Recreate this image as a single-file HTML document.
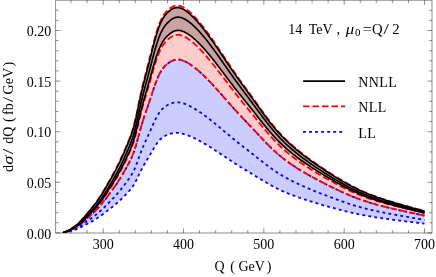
<!DOCTYPE html>
<html><head><meta charset="utf-8"><style>
html,body{margin:0;padding:0;background:#fff;}
svg{display:block;will-change:transform}
text{font-family:"Liberation Serif",serif;font-size:14px;fill:#000}
</style></head><body>
<svg width="436" height="277" viewBox="0 0 436 277">
<rect width="436" height="277" fill="#fff"/>
<defs><clipPath id="c"><rect x="55.6" y="0" width="376.4" height="233.0"/></clipPath></defs>
<g clip-path="url(#c)">
<path d="M63.04,232.90 L63.28,232.81 L63.53,232.71 L63.78,232.62 L64.03,232.52 L64.27,232.43 L64.52,232.33 L64.77,232.24 L65.01,232.14 L65.26,232.05 L65.51,231.95 L65.76,231.86 L66.00,231.76 L66.25,231.67 L66.50,231.69 L66.74,231.67 L66.99,231.63 L67.24,231.56 L67.49,231.47 L67.73,231.37 L67.98,231.27 L68.23,231.16 L68.47,231.05 L68.72,230.94 L68.97,230.82 L69.22,230.71 L69.46,230.60 L69.71,230.48 L69.96,230.37 L70.20,230.26 L70.45,230.14 L70.70,230.02 L70.95,229.91 L71.19,229.79 L71.44,229.67 L71.69,229.56 L71.94,229.44 L72.18,229.32 L72.43,229.20 L72.68,229.08 L73.48,228.67 L74.28,228.25 L75.08,227.82 L75.88,227.36 L76.68,226.88 L77.49,226.37 L78.29,225.83 L79.09,225.26 L79.89,224.67 L80.69,224.05 L81.49,223.40 L82.29,222.73 L83.09,222.05 L83.90,221.36 L84.70,220.67 L85.50,219.97 L86.30,219.26 L87.10,218.56 L87.90,217.84 L88.70,217.13 L89.51,216.41 L90.31,215.68 L91.11,214.95 L91.91,214.21 L92.71,213.45 L93.51,212.69 L94.31,211.91 L95.12,211.12 L95.92,210.30 L96.72,209.46 L97.52,208.61 L98.32,207.73 L99.12,206.83 L99.92,205.91 L100.73,204.97 L101.53,204.02 L102.33,203.04 L103.13,202.05 L103.93,201.05 L104.73,200.03 L105.53,199.00 L106.34,197.96 L107.14,196.91 L107.94,195.86 L108.74,194.80 L109.54,193.73 L110.34,192.66 L111.14,191.58 L111.95,190.49 L112.75,189.38 L113.55,188.27 L114.35,187.14 L115.15,186.00 L115.95,184.84 L116.75,183.66 L117.56,182.46 L118.36,181.24 L119.16,180.00 L119.96,178.73 L120.76,177.43 L121.56,176.12 L122.36,174.78 L123.17,173.42 L123.97,172.03 L124.77,170.63 L125.57,169.20 L126.37,167.75 L127.17,166.28 L127.97,164.79 L128.78,163.27 L129.58,161.72 L130.38,160.13 L131.18,158.46 L131.98,156.69 L132.78,154.78 L133.58,152.70 L134.39,150.42 L135.19,147.94 L135.99,145.28 L136.79,142.49 L137.59,139.60 L138.39,136.65 L139.19,133.68 L140.00,130.76 L140.80,127.92 L141.60,125.20 L142.40,122.57 L143.20,120.03 L144.00,117.56 L144.80,115.16 L145.61,112.79 L146.41,110.46 L147.21,108.13 L148.01,105.79 L148.81,103.41 L149.61,101.00 L150.41,98.57 L151.22,96.13 L152.02,93.69 L152.82,91.28 L153.62,88.89 L154.42,86.56 L155.22,84.29 L156.02,82.10 L156.83,80.02 L157.63,78.06 L158.43,76.24 L159.23,74.57 L160.03,73.02 L160.83,71.61 L161.63,70.32 L162.44,69.15 L163.24,68.08 L164.04,67.11 L164.84,66.23 L165.64,65.42 L166.44,64.69 L167.24,64.01 L168.05,63.38 L168.85,62.80 L169.65,62.26 L170.45,61.77 L171.25,61.32 L172.05,60.93 L172.85,60.58 L173.66,60.29 L174.46,60.05 L175.26,59.86 L176.06,59.72 L176.86,59.64 L177.66,59.61 L178.46,59.63 L179.27,59.71 L180.07,59.83 L180.87,60.00 L181.67,60.21 L182.47,60.46 L183.27,60.75 L184.07,61.07 L184.88,61.43 L185.68,61.81 L186.48,62.22 L187.28,62.66 L188.08,63.12 L188.88,63.60 L189.68,64.10 L190.49,64.62 L191.29,65.16 L192.09,65.72 L192.89,66.30 L193.69,66.89 L194.49,67.51 L195.29,68.13 L196.10,68.78 L196.90,69.43 L197.70,70.11 L198.50,70.80 L199.30,71.50 L200.10,72.21 L200.90,72.94 L201.71,73.68 L202.51,74.43 L203.31,75.19 L204.11,75.96 L204.91,76.74 L205.71,77.54 L206.51,78.34 L207.32,79.15 L208.12,79.97 L208.92,80.80 L209.72,81.63 L210.52,82.48 L211.32,83.33 L212.12,84.19 L212.93,85.05 L213.73,85.92 L214.53,86.79 L215.33,87.67 L216.13,88.56 L216.93,89.45 L217.73,90.34 L218.53,91.24 L219.34,92.14 L220.14,93.05 L220.94,93.95 L221.74,94.86 L222.54,95.77 L223.34,96.67 L224.14,97.58 L224.95,98.49 L225.75,99.40 L226.55,100.31 L227.35,101.22 L228.15,102.13 L228.95,103.03 L229.75,103.93 L230.56,104.83 L231.36,105.73 L232.16,106.62 L232.96,107.52 L233.76,108.40 L234.56,109.29 L235.36,110.16 L236.17,111.04 L236.97,111.91 L237.77,112.78 L238.57,113.64 L239.37,114.50 L240.17,115.35 L240.97,116.21 L241.78,117.06 L242.58,117.91 L243.38,118.76 L244.18,119.60 L244.98,120.45 L245.78,121.29 L246.58,122.14 L247.39,122.98 L248.19,123.83 L248.99,124.67 L249.79,125.52 L250.59,126.36 L251.39,127.21 L252.19,128.06 L253.00,128.90 L253.80,129.76 L254.60,130.61 L255.40,131.46 L256.20,132.32 L257.00,133.18 L257.80,134.04 L258.61,134.90 L259.41,135.76 L260.21,136.61 L261.01,137.47 L261.81,138.32 L262.61,139.17 L263.41,140.02 L264.22,140.86 L265.02,141.70 L265.82,142.53 L266.62,143.35 L267.42,144.17 L268.22,144.98 L269.02,145.79 L269.83,146.58 L270.63,147.37 L271.43,148.15 L272.23,148.92 L273.03,149.68 L273.83,150.43 L274.63,151.17 L275.44,151.89 L276.24,152.61 L277.04,153.32 L277.84,154.01 L278.64,154.70 L279.44,155.37 L280.24,156.04 L281.05,156.69 L281.85,157.34 L282.65,157.97 L283.45,158.60 L284.25,159.22 L285.05,159.83 L285.85,160.44 L286.66,161.03 L287.46,161.62 L288.26,162.20 L289.06,162.77 L289.86,163.34 L290.66,163.90 L291.46,164.45 L292.27,165.00 L293.07,165.54 L293.87,166.07 L294.67,166.60 L295.47,167.12 L296.27,167.64 L297.07,168.15 L297.88,168.66 L298.68,169.16 L299.48,169.66 L300.28,170.15 L301.08,170.64 L301.88,171.13 L302.68,171.61 L303.49,172.08 L304.29,172.56 L305.09,173.03 L305.89,173.49 L306.69,173.95 L307.49,174.41 L308.29,174.87 L309.10,175.32 L309.90,175.77 L310.70,176.21 L311.50,176.65 L312.30,177.09 L313.10,177.53 L313.90,177.97 L314.71,178.40 L315.51,178.83 L316.31,179.26 L317.11,179.68 L317.91,180.10 L318.71,180.52 L319.51,180.94 L320.32,181.36 L321.12,181.78 L321.92,182.19 L322.72,182.60 L323.52,183.01 L324.32,183.42 L325.12,183.83 L325.93,184.23 L326.73,184.64 L327.53,185.04 L328.33,185.44 L329.13,185.84 L329.93,186.24 L330.73,186.64 L331.54,187.03 L332.34,187.43 L333.14,187.82 L333.94,188.21 L334.74,188.60 L335.54,188.98 L336.34,189.37 L337.15,189.75 L337.95,190.13 L338.75,190.51 L339.55,190.88 L340.35,191.25 L341.15,191.62 L341.95,191.99 L342.76,192.35 L343.56,192.71 L344.36,193.07 L345.16,193.42 L345.96,193.77 L346.76,194.12 L347.56,194.47 L348.37,194.81 L349.17,195.15 L349.97,195.48 L350.77,195.82 L351.57,196.15 L352.37,196.47 L353.17,196.79 L353.98,197.11 L354.78,197.43 L355.58,197.74 L356.38,198.05 L357.18,198.35 L357.98,198.66 L358.78,198.95 L359.58,199.25 L360.39,199.54 L361.19,199.82 L361.99,200.11 L362.79,200.39 L363.59,200.66 L364.39,200.94 L365.19,201.20 L366.00,201.47 L366.80,201.73 L367.60,201.99 L368.40,202.24 L369.20,202.49 L370.00,202.74 L370.80,202.98 L371.61,203.22 L372.41,203.46 L373.21,203.69 L374.01,203.92 L374.81,204.15 L375.61,204.38 L376.41,204.60 L377.22,204.82 L378.02,205.04 L378.82,205.25 L379.62,205.46 L380.42,205.68 L381.22,205.88 L382.02,206.09 L382.83,206.29 L383.63,206.50 L384.43,206.70 L385.23,206.90 L386.03,207.09 L386.83,207.29 L387.63,207.48 L388.44,207.68 L389.24,207.87 L390.04,208.06 L390.84,208.25 L391.64,208.43 L392.44,208.62 L393.24,208.80 L394.05,208.99 L394.85,209.17 L395.65,209.35 L396.45,209.54 L397.25,209.72 L398.05,209.90 L398.85,210.08 L399.66,210.25 L400.46,210.43 L401.26,210.61 L402.06,210.79 L402.86,210.96 L403.66,211.14 L404.46,211.31 L405.27,211.49 L406.07,211.66 L406.87,211.84 L407.67,212.01 L408.47,212.18 L409.27,212.36 L410.07,212.53 L410.88,212.70 L411.68,212.88 L412.48,213.05 L413.28,213.22 L414.08,213.39 L414.88,213.57 L415.68,213.74 L416.49,213.91 L417.29,214.08 L418.09,214.26 L418.89,214.43 L419.69,214.60 L420.49,214.77 L421.29,214.94 L422.10,215.12 L422.90,215.29 L423.70,215.46 L424.50,215.63 L424.50,223.61 L423.70,223.52 L422.90,223.42 L422.10,223.32 L421.29,223.23 L420.49,223.13 L419.69,223.03 L418.89,222.94 L418.09,222.84 L417.29,222.75 L416.49,222.65 L415.68,222.55 L414.88,222.46 L414.08,222.36 L413.28,222.26 L412.48,222.17 L411.68,222.07 L410.88,221.97 L410.07,221.88 L409.27,221.78 L408.47,221.68 L407.67,221.58 L406.87,221.49 L406.07,221.39 L405.27,221.29 L404.46,221.19 L403.66,221.09 L402.86,220.99 L402.06,220.90 L401.26,220.80 L400.46,220.70 L399.66,220.60 L398.85,220.50 L398.05,220.39 L397.25,220.29 L396.45,220.19 L395.65,220.09 L394.85,219.99 L394.05,219.88 L393.24,219.78 L392.44,219.68 L391.64,219.57 L390.84,219.47 L390.04,219.36 L389.24,219.25 L388.44,219.14 L387.63,219.04 L386.83,218.93 L386.03,218.82 L385.23,218.71 L384.43,218.59 L383.63,218.48 L382.83,218.37 L382.02,218.25 L381.22,218.14 L380.42,218.02 L379.62,217.90 L378.82,217.78 L378.02,217.66 L377.22,217.54 L376.41,217.41 L375.61,217.29 L374.81,217.16 L374.01,217.03 L373.21,216.90 L372.41,216.77 L371.61,216.64 L370.80,216.50 L370.00,216.37 L369.20,216.23 L368.40,216.09 L367.60,215.94 L366.80,215.80 L366.00,215.65 L365.19,215.50 L364.39,215.35 L363.59,215.20 L362.79,215.05 L361.99,214.89 L361.19,214.73 L360.39,214.57 L359.58,214.40 L358.78,214.24 L357.98,214.07 L357.18,213.90 L356.38,213.73 L355.58,213.56 L354.78,213.38 L353.98,213.21 L353.17,213.03 L352.37,212.85 L351.57,212.66 L350.77,212.48 L349.97,212.29 L349.17,212.10 L348.37,211.91 L347.56,211.72 L346.76,211.53 L345.96,211.33 L345.16,211.13 L344.36,210.93 L343.56,210.73 L342.76,210.53 L341.95,210.33 L341.15,210.12 L340.35,209.91 L339.55,209.71 L338.75,209.49 L337.95,209.28 L337.15,209.07 L336.34,208.86 L335.54,208.64 L334.74,208.42 L333.94,208.20 L333.14,207.98 L332.34,207.76 L331.54,207.54 L330.73,207.32 L329.93,207.10 L329.13,206.87 L328.33,206.65 L327.53,206.42 L326.73,206.19 L325.93,205.97 L325.12,205.74 L324.32,205.51 L323.52,205.28 L322.72,205.05 L321.92,204.81 L321.12,204.58 L320.32,204.35 L319.51,204.11 L318.71,203.87 L317.91,203.64 L317.11,203.40 L316.31,203.16 L315.51,202.92 L314.71,202.67 L313.90,202.43 L313.10,202.18 L312.30,201.94 L311.50,201.69 L310.70,201.44 L309.90,201.18 L309.10,200.93 L308.29,200.68 L307.49,200.42 L306.69,200.16 L305.89,199.90 L305.09,199.63 L304.29,199.37 L303.49,199.10 L302.68,198.83 L301.88,198.56 L301.08,198.29 L300.28,198.01 L299.48,197.73 L298.68,197.45 L297.88,197.16 L297.07,196.87 L296.27,196.58 L295.47,196.29 L294.67,195.99 L293.87,195.69 L293.07,195.39 L292.27,195.08 L291.46,194.77 L290.66,194.46 L289.86,194.14 L289.06,193.82 L288.26,193.50 L287.46,193.17 L286.66,192.83 L285.85,192.50 L285.05,192.15 L284.25,191.81 L283.45,191.45 L282.65,191.10 L281.85,190.73 L281.05,190.37 L280.24,190.00 L279.44,189.62 L278.64,189.23 L277.84,188.84 L277.04,188.45 L276.24,188.05 L275.44,187.64 L274.63,187.22 L273.83,186.80 L273.03,186.38 L272.23,185.95 L271.43,185.51 L270.63,185.06 L269.83,184.62 L269.02,184.16 L268.22,183.70 L267.42,183.24 L266.62,182.77 L265.82,182.30 L265.02,181.83 L264.22,181.35 L263.41,180.87 L262.61,180.39 L261.81,179.90 L261.01,179.41 L260.21,178.92 L259.41,178.43 L258.61,177.94 L257.80,177.45 L257.00,176.96 L256.20,176.47 L255.40,175.97 L254.60,175.48 L253.80,174.99 L253.00,174.50 L252.19,174.02 L251.39,173.53 L250.59,173.04 L249.79,172.55 L248.99,172.07 L248.19,171.58 L247.39,171.09 L246.58,170.60 L245.78,170.12 L244.98,169.63 L244.18,169.14 L243.38,168.65 L242.58,168.16 L241.78,167.66 L240.97,167.17 L240.17,166.68 L239.37,166.18 L238.57,165.68 L237.77,165.18 L236.97,164.67 L236.17,164.17 L235.36,163.66 L234.56,163.15 L233.76,162.63 L232.96,162.11 L232.16,161.59 L231.36,161.07 L230.56,160.55 L229.75,160.02 L228.95,159.49 L228.15,158.96 L227.35,158.43 L226.55,157.90 L225.75,157.37 L224.95,156.83 L224.14,156.30 L223.34,155.76 L222.54,155.23 L221.74,154.69 L220.94,154.16 L220.14,153.62 L219.34,153.09 L218.53,152.56 L217.73,152.03 L216.93,151.50 L216.13,150.97 L215.33,150.44 L214.53,149.92 L213.73,149.40 L212.93,148.88 L212.12,148.36 L211.32,147.85 L210.52,147.34 L209.72,146.83 L208.92,146.33 L208.12,145.83 L207.32,145.34 L206.51,144.85 L205.71,144.37 L204.91,143.89 L204.11,143.41 L203.31,142.94 L202.51,142.48 L201.71,142.02 L200.90,141.57 L200.10,141.12 L199.30,140.69 L198.50,140.25 L197.70,139.83 L196.90,139.41 L196.10,139.00 L195.29,138.60 L194.49,138.21 L193.69,137.83 L192.89,137.45 L192.09,137.09 L191.29,136.73 L190.49,136.39 L189.68,136.05 L188.88,135.73 L188.08,135.41 L187.28,135.11 L186.48,134.82 L185.68,134.55 L184.88,134.29 L184.07,134.05 L183.27,133.82 L182.47,133.62 L181.67,133.43 L180.87,133.27 L180.07,133.13 L179.27,133.02 L178.46,132.94 L177.66,132.88 L176.86,132.86 L176.06,132.86 L175.26,132.90 L174.46,132.96 L173.66,133.06 L172.85,133.19 L172.05,133.34 L171.25,133.53 L170.45,133.74 L169.65,133.98 L168.85,134.24 L168.05,134.54 L167.24,134.86 L166.44,135.21 L165.64,135.59 L164.84,136.01 L164.04,136.48 L163.24,136.99 L162.44,137.57 L161.63,138.21 L160.83,138.91 L160.03,139.69 L159.23,140.54 L158.43,141.47 L157.63,142.49 L156.83,143.59 L156.02,144.76 L155.22,145.99 L154.42,147.27 L153.62,148.59 L152.82,149.94 L152.02,151.32 L151.22,152.70 L150.41,154.09 L149.61,155.47 L148.81,156.85 L148.01,158.20 L147.21,159.54 L146.41,160.86 L145.61,162.20 L144.80,163.55 L144.00,164.92 L143.20,166.34 L142.40,167.80 L141.60,169.31 L140.80,170.89 L140.00,172.52 L139.19,174.22 L138.39,175.94 L137.59,177.65 L136.79,179.33 L135.99,180.95 L135.19,182.49 L134.39,183.94 L133.58,185.26 L132.78,186.47 L131.98,187.57 L131.18,188.60 L130.38,189.56 L129.58,190.48 L128.78,191.37 L127.97,192.25 L127.17,193.12 L126.37,193.97 L125.57,194.81 L124.77,195.64 L123.97,196.45 L123.17,197.26 L122.36,198.05 L121.56,198.83 L120.76,199.59 L119.96,200.35 L119.16,201.09 L118.36,201.81 L117.56,202.53 L116.75,203.23 L115.95,203.92 L115.15,204.59 L114.35,205.26 L113.55,205.92 L112.75,206.58 L111.95,207.22 L111.14,207.87 L110.34,208.50 L109.54,209.13 L108.74,209.76 L107.94,210.39 L107.14,211.01 L106.34,211.63 L105.53,212.25 L104.73,212.86 L103.93,213.46 L103.13,214.06 L102.33,214.65 L101.53,215.23 L100.73,215.80 L99.92,216.36 L99.12,216.91 L98.32,217.45 L97.52,217.98 L96.72,218.49 L95.92,218.99 L95.12,219.49 L94.31,219.96 L93.51,220.43 L92.71,220.89 L91.91,221.35 L91.11,221.79 L90.31,222.24 L89.51,222.68 L88.70,223.12 L87.90,223.55 L87.10,223.99 L86.30,224.42 L85.50,224.85 L84.70,225.28 L83.90,225.70 L83.09,226.13 L82.29,226.55 L81.49,226.96 L80.69,227.36 L79.89,227.74 L79.09,228.11 L78.29,228.46 L77.49,228.79 L76.68,229.11 L75.88,229.41 L75.08,229.69 L74.28,229.97 L73.48,230.23 L72.68,230.48 L72.43,230.56 L72.18,230.63 L71.94,230.71 L71.69,230.78 L71.44,230.86 L71.19,230.93 L70.95,231.00 L70.70,231.08 L70.45,231.15 L70.20,231.22 L69.96,231.29 L69.71,231.37 L69.46,231.44 L69.22,231.51 L68.97,231.58 L68.72,231.65 L68.47,231.72 L68.23,231.79 L67.98,231.86 L67.73,231.93 L67.49,231.99 L67.24,232.05 L66.99,232.09 L66.74,232.12 L66.50,232.13 L66.25,232.11 L66.00,232.17 L65.76,232.23 L65.51,232.30 L65.26,232.36 L65.01,232.42 L64.77,232.48 L64.52,232.54 L64.27,232.60 L64.03,232.66 L63.78,232.72 L63.53,232.78 L63.28,232.84 L63.04,232.90Z" fill="#ccccff" stroke="none"/>
<path d="M63.04,232.90 L63.28,232.77 L63.53,232.64 L63.78,232.51 L64.03,232.39 L64.27,232.26 L64.52,232.13 L64.77,232.00 L65.01,231.87 L65.26,231.74 L65.51,231.62 L65.76,231.49 L66.00,231.36 L66.25,231.23 L66.50,231.26 L66.74,231.24 L66.99,231.18 L67.24,231.08 L67.49,230.97 L67.73,230.83 L67.98,230.69 L68.23,230.54 L68.47,230.39 L68.72,230.24 L68.97,230.09 L69.22,229.94 L69.46,229.78 L69.71,229.63 L69.96,229.47 L70.20,229.32 L70.45,229.16 L70.70,229.01 L70.95,228.85 L71.19,228.69 L71.44,228.53 L71.69,228.37 L71.94,228.21 L72.18,228.05 L72.43,227.89 L72.68,227.73 L73.48,227.18 L74.28,226.62 L75.08,226.03 L75.88,225.41 L76.68,224.76 L77.49,224.08 L78.29,223.35 L79.09,222.59 L79.89,221.79 L80.69,220.95 L81.49,220.08 L82.29,219.19 L83.09,218.27 L83.90,217.35 L84.70,216.42 L85.50,215.48 L86.30,214.53 L87.10,213.58 L87.90,212.63 L88.70,211.67 L89.51,210.71 L90.31,209.73 L91.11,208.75 L91.91,207.76 L92.71,206.76 L93.51,205.74 L94.31,204.70 L95.12,203.64 L95.92,202.55 L96.72,201.43 L97.52,200.29 L98.32,199.12 L99.12,197.92 L99.92,196.70 L100.73,195.45 L101.53,194.17 L102.33,192.88 L103.13,191.56 L103.93,190.22 L104.73,188.87 L105.53,187.50 L106.34,186.12 L107.14,184.73 L107.94,183.33 L108.74,181.92 L109.54,180.51 L110.34,179.09 L111.14,177.65 L111.95,176.20 L112.75,174.75 L113.55,173.27 L114.35,171.78 L115.15,170.27 L115.95,168.73 L116.75,167.17 L117.56,165.59 L118.36,163.97 L119.16,162.32 L119.96,160.65 L120.76,158.94 L121.56,157.20 L122.36,155.43 L123.17,153.63 L123.97,151.81 L124.77,149.95 L125.57,148.07 L126.37,146.16 L127.17,144.22 L127.97,142.25 L128.78,140.24 L129.58,138.21 L130.38,136.11 L131.18,133.91 L131.98,131.58 L132.78,129.06 L133.58,126.32 L134.39,123.31 L135.19,120.03 L135.99,116.54 L136.79,112.86 L137.59,109.05 L138.39,105.16 L139.19,101.26 L140.00,97.41 L140.80,93.69 L141.60,90.11 L142.40,86.66 L143.20,83.33 L144.00,80.10 L144.80,76.95 L145.61,73.87 L146.41,70.81 L147.21,67.77 L148.01,64.72 L148.81,61.61 L149.61,58.47 L150.41,55.29 L151.22,52.11 L152.02,48.93 L152.82,45.78 L153.62,42.68 L154.42,39.64 L155.22,36.69 L156.02,33.85 L156.83,31.16 L157.63,28.62 L158.43,26.27 L159.23,24.10 L160.03,22.12 L160.83,20.31 L161.63,18.66 L162.44,17.16 L163.24,15.81 L164.04,14.58 L164.84,13.47 L165.64,12.46 L166.44,11.54 L167.24,10.70 L168.05,9.92 L168.85,9.20 L169.65,8.55 L170.45,7.95 L171.25,7.42 L172.05,6.95 L172.85,6.55 L173.66,6.22 L174.46,5.95 L175.26,5.75 L176.06,5.62 L176.86,5.57 L177.66,5.58 L178.46,5.65 L179.27,5.78 L180.07,5.98 L180.87,6.24 L181.67,6.55 L182.47,6.91 L183.27,7.32 L184.07,7.78 L184.88,8.28 L185.68,8.82 L186.48,9.40 L187.28,10.01 L188.08,10.64 L188.88,11.30 L189.68,11.99 L190.49,12.71 L191.29,13.45 L192.09,14.21 L192.89,15.00 L193.69,15.81 L194.49,16.64 L195.29,17.50 L196.10,18.37 L196.90,19.26 L197.70,20.17 L198.50,21.10 L199.30,22.05 L200.10,23.01 L200.90,23.99 L201.71,24.99 L202.51,26.00 L203.31,27.02 L204.11,28.06 L204.91,29.11 L205.71,30.17 L206.51,31.25 L207.32,32.34 L208.12,33.44 L208.92,34.54 L209.72,35.66 L210.52,36.79 L211.32,37.93 L212.12,39.07 L212.93,40.22 L213.73,41.38 L214.53,42.55 L215.33,43.73 L216.13,44.90 L216.93,46.09 L217.73,47.28 L218.53,48.47 L219.34,49.67 L220.14,50.87 L220.94,52.07 L221.74,53.28 L222.54,54.49 L223.34,55.69 L224.14,56.90 L224.95,58.11 L225.75,59.31 L226.55,60.52 L227.35,61.72 L228.15,62.92 L228.95,64.12 L229.75,65.31 L230.56,66.50 L231.36,67.69 L232.16,68.88 L232.96,70.05 L233.76,71.23 L234.56,72.40 L235.36,73.56 L236.17,74.71 L236.97,75.86 L237.77,77.01 L238.57,78.15 L239.37,79.28 L240.17,80.41 L240.97,81.53 L241.78,82.65 L242.58,83.76 L243.38,84.87 L244.18,85.98 L244.98,87.09 L245.78,88.20 L246.58,89.31 L247.39,90.41 L248.19,91.52 L248.99,92.62 L249.79,93.73 L250.59,94.84 L251.39,95.95 L252.19,97.06 L253.00,98.17 L253.80,99.28 L254.60,100.40 L255.40,101.51 L256.20,102.63 L257.00,103.76 L257.80,104.88 L258.61,106.00 L259.41,107.12 L260.21,108.25 L261.01,109.36 L261.81,110.48 L262.61,111.59 L263.41,112.69 L264.22,113.79 L265.02,114.88 L265.82,115.97 L266.62,117.04 L267.42,118.11 L268.22,119.17 L269.02,120.22 L269.83,121.26 L270.63,122.28 L271.43,123.30 L272.23,124.30 L273.03,125.29 L273.83,126.27 L274.63,127.23 L275.44,128.18 L276.24,129.12 L277.04,130.04 L277.84,130.95 L278.64,131.84 L279.44,132.72 L280.24,133.58 L281.05,134.44 L281.85,135.28 L282.65,136.11 L283.45,136.93 L284.25,137.74 L285.05,138.53 L285.85,139.32 L286.66,140.09 L287.46,140.86 L288.26,141.62 L289.06,142.36 L289.86,143.10 L290.66,143.83 L291.46,144.55 L292.27,145.26 L293.07,145.97 L293.87,146.66 L294.67,147.35 L295.47,148.03 L296.27,148.71 L297.07,149.37 L297.88,150.03 L298.68,150.69 L299.48,151.34 L300.28,151.98 L301.08,152.62 L301.88,153.25 L302.68,153.87 L303.49,154.49 L304.29,155.11 L305.09,155.72 L305.89,156.32 L306.69,156.92 L307.49,157.52 L308.29,158.11 L309.10,158.70 L309.90,159.28 L310.70,159.86 L311.50,160.44 L312.30,161.01 L313.10,161.58 L313.90,162.14 L314.71,162.71 L315.51,163.27 L316.31,163.82 L317.11,164.37 L317.91,164.92 L318.71,165.47 L319.51,166.02 L320.32,166.56 L321.12,167.10 L321.92,167.63 L322.72,168.17 L323.52,168.70 L324.32,169.23 L325.12,169.76 L325.93,170.29 L326.73,170.81 L327.53,171.34 L328.33,171.86 L329.13,172.38 L329.93,172.89 L330.73,173.41 L331.54,173.92 L332.34,174.43 L333.14,174.94 L333.94,175.45 L334.74,175.95 L335.54,176.45 L336.34,176.95 L337.15,177.45 L337.95,177.94 L338.75,178.43 L339.55,178.91 L340.35,179.39 L341.15,179.87 L341.95,180.34 L342.76,180.82 L343.56,181.28 L344.36,181.75 L345.16,182.21 L345.96,182.67 L346.76,183.12 L347.56,183.57 L348.37,184.02 L349.17,184.46 L349.97,184.89 L350.77,185.33 L351.57,185.76 L352.37,186.18 L353.17,186.60 L353.98,187.01 L354.78,187.42 L355.58,187.83 L356.38,188.23 L357.18,188.63 L357.98,189.02 L358.78,189.41 L359.58,189.79 L360.39,190.17 L361.19,190.54 L361.99,190.91 L362.79,191.27 L363.59,191.63 L364.39,191.99 L365.19,192.34 L366.00,192.68 L366.80,193.02 L367.60,193.36 L368.40,193.69 L369.20,194.01 L370.00,194.33 L370.80,194.65 L371.61,194.96 L372.41,195.27 L373.21,195.57 L374.01,195.87 L374.81,196.17 L375.61,196.46 L376.41,196.75 L377.22,197.04 L378.02,197.32 L378.82,197.60 L379.62,197.88 L380.42,198.15 L381.22,198.42 L382.02,198.69 L382.83,198.95 L383.63,199.22 L384.43,199.48 L385.23,199.74 L386.03,199.99 L386.83,200.25 L387.63,200.50 L388.44,200.75 L389.24,201.00 L390.04,201.24 L390.84,201.49 L391.64,201.73 L392.44,201.97 L393.24,202.21 L394.05,202.45 L394.85,202.69 L395.65,202.93 L396.45,203.16 L397.25,203.40 L398.05,203.63 L398.85,203.86 L399.66,204.10 L400.46,204.33 L401.26,204.56 L402.06,204.78 L402.86,205.01 L403.66,205.24 L404.46,205.47 L405.27,205.69 L406.07,205.92 L406.87,206.15 L407.67,206.37 L408.47,206.60 L409.27,206.82 L410.07,207.04 L410.88,207.27 L411.68,207.49 L412.48,207.71 L413.28,207.94 L414.08,208.16 L414.88,208.38 L415.68,208.60 L416.49,208.83 L417.29,209.05 L418.09,209.27 L418.89,209.49 L419.69,209.71 L420.49,209.94 L421.29,210.16 L422.10,210.38 L422.90,210.60 L423.70,210.82 L424.50,211.05 L424.50,215.63 L423.70,215.46 L422.90,215.29 L422.10,215.12 L421.29,214.94 L420.49,214.77 L419.69,214.60 L418.89,214.43 L418.09,214.26 L417.29,214.08 L416.49,213.91 L415.68,213.74 L414.88,213.57 L414.08,213.39 L413.28,213.22 L412.48,213.05 L411.68,212.88 L410.88,212.70 L410.07,212.53 L409.27,212.36 L408.47,212.18 L407.67,212.01 L406.87,211.84 L406.07,211.66 L405.27,211.49 L404.46,211.31 L403.66,211.14 L402.86,210.96 L402.06,210.79 L401.26,210.61 L400.46,210.43 L399.66,210.25 L398.85,210.08 L398.05,209.90 L397.25,209.72 L396.45,209.54 L395.65,209.35 L394.85,209.17 L394.05,208.99 L393.24,208.80 L392.44,208.62 L391.64,208.43 L390.84,208.25 L390.04,208.06 L389.24,207.87 L388.44,207.68 L387.63,207.48 L386.83,207.29 L386.03,207.09 L385.23,206.90 L384.43,206.70 L383.63,206.50 L382.83,206.29 L382.02,206.09 L381.22,205.88 L380.42,205.68 L379.62,205.46 L378.82,205.25 L378.02,205.04 L377.22,204.82 L376.41,204.60 L375.61,204.38 L374.81,204.15 L374.01,203.92 L373.21,203.69 L372.41,203.46 L371.61,203.22 L370.80,202.98 L370.00,202.74 L369.20,202.49 L368.40,202.24 L367.60,201.99 L366.80,201.73 L366.00,201.47 L365.19,201.20 L364.39,200.94 L363.59,200.66 L362.79,200.39 L361.99,200.11 L361.19,199.82 L360.39,199.54 L359.58,199.25 L358.78,198.95 L357.98,198.66 L357.18,198.35 L356.38,198.05 L355.58,197.74 L354.78,197.43 L353.98,197.11 L353.17,196.79 L352.37,196.47 L351.57,196.15 L350.77,195.82 L349.97,195.48 L349.17,195.15 L348.37,194.81 L347.56,194.47 L346.76,194.12 L345.96,193.77 L345.16,193.42 L344.36,193.07 L343.56,192.71 L342.76,192.35 L341.95,191.99 L341.15,191.62 L340.35,191.25 L339.55,190.88 L338.75,190.51 L337.95,190.13 L337.15,189.75 L336.34,189.37 L335.54,188.98 L334.74,188.60 L333.94,188.21 L333.14,187.82 L332.34,187.43 L331.54,187.03 L330.73,186.64 L329.93,186.24 L329.13,185.84 L328.33,185.44 L327.53,185.04 L326.73,184.64 L325.93,184.23 L325.12,183.83 L324.32,183.42 L323.52,183.01 L322.72,182.60 L321.92,182.19 L321.12,181.78 L320.32,181.36 L319.51,180.94 L318.71,180.52 L317.91,180.10 L317.11,179.68 L316.31,179.26 L315.51,178.83 L314.71,178.40 L313.90,177.97 L313.10,177.53 L312.30,177.09 L311.50,176.65 L310.70,176.21 L309.90,175.77 L309.10,175.32 L308.29,174.87 L307.49,174.41 L306.69,173.95 L305.89,173.49 L305.09,173.03 L304.29,172.56 L303.49,172.08 L302.68,171.61 L301.88,171.13 L301.08,170.64 L300.28,170.15 L299.48,169.66 L298.68,169.16 L297.88,168.66 L297.07,168.15 L296.27,167.64 L295.47,167.12 L294.67,166.60 L293.87,166.07 L293.07,165.54 L292.27,165.00 L291.46,164.45 L290.66,163.90 L289.86,163.34 L289.06,162.77 L288.26,162.20 L287.46,161.62 L286.66,161.03 L285.85,160.44 L285.05,159.83 L284.25,159.22 L283.45,158.60 L282.65,157.97 L281.85,157.34 L281.05,156.69 L280.24,156.04 L279.44,155.37 L278.64,154.70 L277.84,154.01 L277.04,153.32 L276.24,152.61 L275.44,151.89 L274.63,151.17 L273.83,150.43 L273.03,149.68 L272.23,148.92 L271.43,148.15 L270.63,147.37 L269.83,146.58 L269.02,145.79 L268.22,144.98 L267.42,144.17 L266.62,143.35 L265.82,142.53 L265.02,141.70 L264.22,140.86 L263.41,140.02 L262.61,139.17 L261.81,138.32 L261.01,137.47 L260.21,136.61 L259.41,135.76 L258.61,134.90 L257.80,134.04 L257.00,133.18 L256.20,132.32 L255.40,131.46 L254.60,130.61 L253.80,129.76 L253.00,128.90 L252.19,128.06 L251.39,127.21 L250.59,126.36 L249.79,125.52 L248.99,124.67 L248.19,123.83 L247.39,122.98 L246.58,122.14 L245.78,121.29 L244.98,120.45 L244.18,119.60 L243.38,118.76 L242.58,117.91 L241.78,117.06 L240.97,116.21 L240.17,115.35 L239.37,114.50 L238.57,113.64 L237.77,112.78 L236.97,111.91 L236.17,111.04 L235.36,110.16 L234.56,109.29 L233.76,108.40 L232.96,107.52 L232.16,106.62 L231.36,105.73 L230.56,104.83 L229.75,103.93 L228.95,103.03 L228.15,102.13 L227.35,101.22 L226.55,100.31 L225.75,99.40 L224.95,98.49 L224.14,97.58 L223.34,96.67 L222.54,95.77 L221.74,94.86 L220.94,93.95 L220.14,93.05 L219.34,92.14 L218.53,91.24 L217.73,90.34 L216.93,89.45 L216.13,88.56 L215.33,87.67 L214.53,86.79 L213.73,85.92 L212.93,85.05 L212.12,84.19 L211.32,83.33 L210.52,82.48 L209.72,81.63 L208.92,80.80 L208.12,79.97 L207.32,79.15 L206.51,78.34 L205.71,77.54 L204.91,76.74 L204.11,75.96 L203.31,75.19 L202.51,74.43 L201.71,73.68 L200.90,72.94 L200.10,72.21 L199.30,71.50 L198.50,70.80 L197.70,70.11 L196.90,69.43 L196.10,68.78 L195.29,68.13 L194.49,67.51 L193.69,66.89 L192.89,66.30 L192.09,65.72 L191.29,65.16 L190.49,64.62 L189.68,64.10 L188.88,63.60 L188.08,63.12 L187.28,62.66 L186.48,62.22 L185.68,61.81 L184.88,61.43 L184.07,61.07 L183.27,60.75 L182.47,60.46 L181.67,60.21 L180.87,60.00 L180.07,59.83 L179.27,59.71 L178.46,59.63 L177.66,59.61 L176.86,59.64 L176.06,59.72 L175.26,59.86 L174.46,60.05 L173.66,60.29 L172.85,60.58 L172.05,60.93 L171.25,61.32 L170.45,61.77 L169.65,62.26 L168.85,62.80 L168.05,63.38 L167.24,64.01 L166.44,64.69 L165.64,65.42 L164.84,66.23 L164.04,67.11 L163.24,68.08 L162.44,69.15 L161.63,70.32 L160.83,71.61 L160.03,73.02 L159.23,74.57 L158.43,76.24 L157.63,78.06 L156.83,80.02 L156.02,82.10 L155.22,84.29 L154.42,86.56 L153.62,88.89 L152.82,91.28 L152.02,93.69 L151.22,96.13 L150.41,98.57 L149.61,101.00 L148.81,103.41 L148.01,105.79 L147.21,108.13 L146.41,110.46 L145.61,112.79 L144.80,115.16 L144.00,117.56 L143.20,120.03 L142.40,122.57 L141.60,125.20 L140.80,127.92 L140.00,130.76 L139.19,133.68 L138.39,136.65 L137.59,139.60 L136.79,142.49 L135.99,145.28 L135.19,147.94 L134.39,150.42 L133.58,152.70 L132.78,154.78 L131.98,156.69 L131.18,158.46 L130.38,160.13 L129.58,161.72 L128.78,163.27 L127.97,164.79 L127.17,166.28 L126.37,167.75 L125.57,169.20 L124.77,170.63 L123.97,172.03 L123.17,173.42 L122.36,174.78 L121.56,176.12 L120.76,177.43 L119.96,178.73 L119.16,180.00 L118.36,181.24 L117.56,182.46 L116.75,183.66 L115.95,184.84 L115.15,186.00 L114.35,187.14 L113.55,188.27 L112.75,189.38 L111.95,190.49 L111.14,191.58 L110.34,192.66 L109.54,193.73 L108.74,194.80 L107.94,195.86 L107.14,196.91 L106.34,197.96 L105.53,199.00 L104.73,200.03 L103.93,201.05 L103.13,202.05 L102.33,203.04 L101.53,204.02 L100.73,204.97 L99.92,205.91 L99.12,206.83 L98.32,207.73 L97.52,208.61 L96.72,209.46 L95.92,210.30 L95.12,211.12 L94.31,211.91 L93.51,212.69 L92.71,213.45 L91.91,214.21 L91.11,214.95 L90.31,215.68 L89.51,216.41 L88.70,217.13 L87.90,217.84 L87.10,218.56 L86.30,219.26 L85.50,219.97 L84.70,220.67 L83.90,221.36 L83.09,222.05 L82.29,222.73 L81.49,223.40 L80.69,224.05 L79.89,224.67 L79.09,225.26 L78.29,225.83 L77.49,226.37 L76.68,226.88 L75.88,227.36 L75.08,227.82 L74.28,228.25 L73.48,228.67 L72.68,229.08 L72.43,229.20 L72.18,229.32 L71.94,229.44 L71.69,229.56 L71.44,229.67 L71.19,229.79 L70.95,229.91 L70.70,230.02 L70.45,230.14 L70.20,230.26 L69.96,230.37 L69.71,230.48 L69.46,230.60 L69.22,230.71 L68.97,230.82 L68.72,230.94 L68.47,231.05 L68.23,231.16 L67.98,231.27 L67.73,231.37 L67.49,231.47 L67.24,231.56 L66.99,231.63 L66.74,231.67 L66.50,231.69 L66.25,231.67 L66.00,231.76 L65.76,231.86 L65.51,231.95 L65.26,232.05 L65.01,232.14 L64.77,232.24 L64.52,232.33 L64.27,232.43 L64.03,232.52 L63.78,232.62 L63.53,232.71 L63.28,232.81 L63.04,232.90Z" fill="#ffcccc" stroke="none"/>
<path d="M63.04,232.90 L63.28,232.77 L63.53,232.65 L63.78,232.52 L64.03,232.39 L64.27,232.27 L64.52,232.14 L64.77,232.01 L65.01,231.89 L65.26,231.76 L65.51,231.63 L65.76,231.51 L66.00,231.38 L66.25,231.25 L66.50,231.28 L66.74,231.26 L66.99,231.20 L67.24,231.11 L67.49,231.00 L67.73,230.86 L67.98,230.72 L68.23,230.57 L68.47,230.43 L68.72,230.28 L68.97,230.13 L69.22,229.98 L69.46,229.83 L69.71,229.68 L69.96,229.52 L70.20,229.37 L70.45,229.22 L70.70,229.06 L70.95,228.91 L71.19,228.75 L71.44,228.60 L71.69,228.44 L71.94,228.28 L72.18,228.12 L72.43,227.96 L72.68,227.80 L73.48,227.27 L74.28,226.71 L75.08,226.13 L75.88,225.52 L76.68,224.88 L77.49,224.20 L78.29,223.49 L79.09,222.74 L79.89,221.95 L80.69,221.12 L81.49,220.27 L82.29,219.38 L83.09,218.48 L83.90,217.57 L84.70,216.65 L85.50,215.73 L86.30,214.79 L87.10,213.86 L87.90,212.92 L88.70,211.97 L89.51,211.02 L90.31,210.06 L91.11,209.09 L91.91,208.11 L92.71,207.12 L93.51,206.12 L94.31,205.09 L95.12,204.05 L95.92,202.97 L96.72,201.87 L97.52,200.74 L98.32,199.59 L99.12,198.40 L99.92,197.20 L100.73,195.96 L101.53,194.71 L102.33,193.43 L103.13,192.13 L103.93,190.81 L104.73,189.47 L105.53,188.12 L106.34,186.76 L107.14,185.38 L107.94,184.00 L108.74,182.61 L109.54,181.22 L110.34,179.81 L111.14,178.40 L111.95,176.97 L112.75,175.53 L113.55,174.07 L114.35,172.60 L115.15,171.10 L115.95,169.59 L116.75,168.05 L117.56,166.48 L118.36,164.89 L119.16,163.26 L119.96,161.60 L120.76,159.92 L121.56,158.20 L122.36,156.45 L123.17,154.68 L123.97,152.87 L124.77,151.04 L125.57,149.18 L126.37,147.29 L127.17,145.38 L127.97,143.43 L128.78,141.45 L129.58,139.44 L130.38,137.36 L131.18,135.19 L131.98,132.89 L132.78,130.40 L133.58,127.69 L134.39,124.72 L135.19,121.48 L135.99,118.02 L136.79,114.38 L137.59,110.61 L138.39,106.77 L139.19,102.90 L140.00,99.09 L140.80,95.41 L141.60,91.86 L142.40,88.44 L143.20,85.14 L144.00,81.94 L144.80,78.82 L145.61,75.76 L146.41,72.73 L147.21,69.71 L148.01,66.68 L148.81,63.60 L149.61,60.48 L150.41,57.33 L151.22,54.17 L152.02,51.01 L152.82,47.88 L153.62,44.80 L154.42,41.78 L155.22,38.85 L156.02,36.03 L156.83,33.35 L157.63,30.82 L158.43,28.48 L159.23,26.32 L160.03,24.35 L160.83,22.54 L161.63,20.89 L162.44,19.39 L163.24,18.03 L164.04,16.80 L164.84,15.69 L165.64,14.67 L166.44,13.75 L167.24,12.90 L168.05,12.11 L168.85,11.39 L169.65,10.72 L170.45,10.11 L171.25,9.57 L172.05,9.09 L172.85,8.68 L173.66,8.33 L174.46,8.05 L175.26,7.83 L176.06,7.69 L176.86,7.62 L177.66,7.61 L178.46,7.68 L179.27,7.80 L180.07,8.00 L180.87,8.25 L181.67,8.55 L182.47,8.91 L183.27,9.32 L184.07,9.77 L184.88,10.26 L185.68,10.79 L186.48,11.36 L187.28,11.96 L188.08,12.59 L188.88,13.24 L189.68,13.92 L190.49,14.63 L191.29,15.36 L192.09,16.12 L192.89,16.89 L193.69,17.69 L194.49,18.52 L195.29,19.36 L196.10,20.22 L196.90,21.10 L197.70,22.00 L198.50,22.92 L199.30,23.86 L200.10,24.81 L200.90,25.78 L201.71,26.76 L202.51,27.76 L203.31,28.78 L204.11,29.80 L204.91,30.84 L205.71,31.89 L206.51,32.96 L207.32,34.03 L208.12,35.12 L208.92,36.22 L209.72,37.32 L210.52,38.44 L211.32,39.56 L212.12,40.69 L212.93,41.84 L213.73,42.98 L214.53,44.14 L215.33,45.30 L216.13,46.47 L216.93,47.64 L217.73,48.82 L218.53,50.00 L219.34,51.18 L220.14,52.37 L220.94,53.56 L221.74,54.76 L222.54,55.95 L223.34,57.14 L224.14,58.34 L224.95,59.53 L225.75,60.73 L226.55,61.92 L227.35,63.11 L228.15,64.30 L228.95,65.49 L229.75,66.67 L230.56,67.85 L231.36,69.03 L232.16,70.20 L232.96,71.36 L233.76,72.53 L234.56,73.68 L235.36,74.83 L236.17,75.98 L236.97,77.12 L237.77,78.25 L238.57,79.38 L239.37,80.50 L240.17,81.62 L240.97,82.74 L241.78,83.85 L242.58,84.96 L243.38,86.07 L244.18,87.17 L244.98,88.28 L245.78,89.38 L246.58,90.48 L247.39,91.58 L248.19,92.69 L248.99,93.79 L249.79,94.89 L250.59,95.99 L251.39,97.09 L252.19,98.20 L253.00,99.31 L253.80,100.41 L254.60,101.52 L255.40,102.63 L256.20,103.75 L257.00,104.87 L257.80,105.98 L258.61,107.10 L259.41,108.22 L260.21,109.33 L261.01,110.44 L261.81,111.55 L262.61,112.65 L263.41,113.75 L264.22,114.85 L265.02,115.93 L265.82,117.01 L266.62,118.08 L267.42,119.14 L268.22,120.20 L269.02,121.24 L269.83,122.27 L270.63,123.29 L271.43,124.30 L272.23,125.30 L273.03,126.28 L273.83,127.25 L274.63,128.21 L275.44,129.16 L276.24,130.08 L277.04,131.00 L277.84,131.90 L278.64,132.79 L279.44,133.66 L280.24,134.52 L281.05,135.37 L281.85,136.21 L282.65,137.03 L283.45,137.85 L284.25,138.65 L285.05,139.44 L285.85,140.22 L286.66,140.99 L287.46,141.76 L288.26,142.51 L289.06,143.25 L289.86,143.98 L290.66,144.71 L291.46,145.42 L292.27,146.13 L293.07,146.83 L293.87,147.52 L294.67,148.21 L295.47,148.88 L296.27,149.55 L297.07,150.22 L297.88,150.87 L298.68,151.52 L299.48,152.17 L300.28,152.81 L301.08,153.44 L301.88,154.07 L302.68,154.69 L303.49,155.30 L304.29,155.91 L305.09,156.52 L305.89,157.12 L306.69,157.72 L307.49,158.31 L308.29,158.90 L309.10,159.48 L309.90,160.06 L310.70,160.64 L311.50,161.21 L312.30,161.78 L313.10,162.34 L313.90,162.90 L314.71,163.46 L315.51,164.02 L316.31,164.57 L317.11,165.12 L317.91,165.66 L318.71,166.21 L319.51,166.75 L320.32,167.28 L321.12,167.82 L321.92,168.35 L322.72,168.88 L323.52,169.41 L324.32,169.94 L325.12,170.47 L325.93,170.99 L326.73,171.51 L327.53,172.03 L328.33,172.54 L329.13,173.06 L329.93,173.57 L330.73,174.09 L331.54,174.59 L332.34,175.10 L333.14,175.61 L333.94,176.11 L334.74,176.61 L335.54,177.10 L336.34,177.60 L337.15,178.09 L337.95,178.58 L338.75,179.06 L339.55,179.54 L340.35,180.02 L341.15,180.49 L341.95,180.96 L342.76,181.43 L343.56,181.89 L344.36,182.35 L345.16,182.81 L345.96,183.26 L346.76,183.71 L347.56,184.15 L348.37,184.59 L349.17,185.03 L349.97,185.46 L350.77,185.88 L351.57,186.31 L352.37,186.72 L353.17,187.14 L353.98,187.55 L354.78,187.95 L355.58,188.35 L356.38,188.75 L357.18,189.14 L357.98,189.53 L358.78,189.91 L359.58,190.29 L360.39,190.66 L361.19,191.03 L361.99,191.39 L362.79,191.75 L363.59,192.10 L364.39,192.45 L365.19,192.80 L366.00,193.14 L366.80,193.47 L367.60,193.80 L368.40,194.13 L369.20,194.45 L370.00,194.77 L370.80,195.08 L371.61,195.39 L372.41,195.69 L373.21,195.99 L374.01,196.29 L374.81,196.58 L375.61,196.87 L376.41,197.15 L377.22,197.43 L378.02,197.71 L378.82,197.99 L379.62,198.26 L380.42,198.53 L381.22,198.80 L382.02,199.06 L382.83,199.32 L383.63,199.58 L384.43,199.84 L385.23,200.10 L386.03,200.35 L386.83,200.60 L387.63,200.85 L388.44,201.10 L389.24,201.34 L390.04,201.58 L390.84,201.83 L391.64,202.07 L392.44,202.30 L393.24,202.54 L394.05,202.78 L394.85,203.01 L395.65,203.25 L396.45,203.48 L397.25,203.71 L398.05,203.94 L398.85,204.17 L399.66,204.40 L400.46,204.63 L401.26,204.85 L402.06,205.08 L402.86,205.30 L403.66,205.53 L404.46,205.75 L405.27,205.98 L406.07,206.20 L406.87,206.42 L407.67,206.64 L408.47,206.87 L409.27,207.09 L410.07,207.31 L410.88,207.53 L411.68,207.75 L412.48,207.97 L413.28,208.19 L414.08,208.41 L414.88,208.63 L415.68,208.85 L416.49,209.07 L417.29,209.29 L418.09,209.51 L418.89,209.73 L419.69,209.95 L420.49,210.17 L421.29,210.39 L422.10,210.60 L422.90,210.82 L423.70,211.04 L424.50,211.26 L424.50,213.06 L423.70,212.86 L422.90,212.66 L422.10,212.46 L421.29,212.27 L420.49,212.07 L419.69,211.87 L418.89,211.67 L418.09,211.47 L417.29,211.27 L416.49,211.07 L415.68,210.88 L414.88,210.68 L414.08,210.48 L413.28,210.28 L412.48,210.08 L411.68,209.88 L410.88,209.68 L410.07,209.48 L409.27,209.28 L408.47,209.08 L407.67,208.88 L406.87,208.68 L406.07,208.47 L405.27,208.27 L404.46,208.07 L403.66,207.87 L402.86,207.66 L402.06,207.46 L401.26,207.25 L400.46,207.05 L399.66,206.84 L398.85,206.63 L398.05,206.42 L397.25,206.22 L396.45,206.01 L395.65,205.79 L394.85,205.58 L394.05,205.37 L393.24,205.16 L392.44,204.94 L391.64,204.72 L390.84,204.50 L390.04,204.28 L389.24,204.06 L388.44,203.84 L387.63,203.62 L386.83,203.39 L386.03,203.16 L385.23,202.93 L384.43,202.70 L383.63,202.47 L382.83,202.23 L382.02,201.99 L381.22,201.75 L380.42,201.51 L379.62,201.26 L378.82,201.01 L378.02,200.76 L377.22,200.51 L376.41,200.25 L375.61,199.99 L374.81,199.73 L374.01,199.46 L373.21,199.19 L372.41,198.92 L371.61,198.64 L370.80,198.36 L370.00,198.07 L369.20,197.78 L368.40,197.49 L367.60,197.19 L366.80,196.89 L366.00,196.59 L365.19,196.28 L364.39,195.96 L363.59,195.64 L362.79,195.32 L361.99,194.99 L361.19,194.66 L360.39,194.32 L359.58,193.98 L358.78,193.64 L357.98,193.29 L357.18,192.93 L356.38,192.58 L355.58,192.21 L354.78,191.85 L353.98,191.48 L353.17,191.10 L352.37,190.72 L351.57,190.34 L350.77,189.96 L349.97,189.56 L349.17,189.17 L348.37,188.77 L347.56,188.37 L346.76,187.96 L345.96,187.55 L345.16,187.14 L344.36,186.72 L343.56,186.30 L342.76,185.88 L341.95,185.45 L341.15,185.02 L340.35,184.59 L339.55,184.15 L338.75,183.71 L337.95,183.26 L337.15,182.82 L336.34,182.37 L335.54,181.92 L334.74,181.46 L333.94,181.00 L333.14,180.54 L332.34,180.08 L331.54,179.62 L330.73,179.15 L329.93,178.68 L329.13,178.21 L328.33,177.74 L327.53,177.26 L326.73,176.79 L325.93,176.31 L325.12,175.83 L324.32,175.35 L323.52,174.87 L322.72,174.38 L321.92,173.90 L321.12,173.41 L320.32,172.92 L319.51,172.42 L318.71,171.93 L317.91,171.43 L317.11,170.93 L316.31,170.42 L315.51,169.92 L314.71,169.41 L313.90,168.90 L313.10,168.38 L312.30,167.86 L311.50,167.34 L310.70,166.82 L309.90,166.29 L309.10,165.76 L308.29,165.22 L307.49,164.69 L306.69,164.14 L305.89,163.60 L305.09,163.04 L304.29,162.49 L303.49,161.93 L302.68,161.36 L301.88,160.79 L301.08,160.22 L300.28,159.64 L299.48,159.06 L298.68,158.47 L297.88,157.87 L297.07,157.27 L296.27,156.66 L295.47,156.05 L294.67,155.43 L293.87,154.80 L293.07,154.17 L292.27,153.53 L291.46,152.88 L290.66,152.22 L289.86,151.56 L289.06,150.89 L288.26,150.21 L287.46,149.52 L286.66,148.83 L285.85,148.12 L285.05,147.41 L284.25,146.68 L283.45,145.95 L282.65,145.20 L281.85,144.45 L281.05,143.68 L280.24,142.91 L279.44,142.12 L278.64,141.32 L277.84,140.51 L277.04,139.69 L276.24,138.85 L275.44,138.00 L274.63,137.14 L273.83,136.27 L273.03,135.38 L272.23,134.48 L271.43,133.57 L270.63,132.65 L269.83,131.72 L269.02,130.78 L268.22,129.83 L267.42,128.87 L266.62,127.90 L265.82,126.92 L265.02,125.94 L264.22,124.95 L263.41,123.96 L262.61,122.96 L261.81,121.95 L261.01,120.94 L260.21,119.93 L259.41,118.92 L258.61,117.90 L257.80,116.89 L257.00,115.87 L256.20,114.86 L255.40,113.84 L254.60,112.83 L253.80,111.83 L253.00,110.82 L252.19,109.82 L251.39,108.82 L250.59,107.81 L249.79,106.82 L248.99,105.82 L248.19,104.82 L247.39,103.82 L246.58,102.83 L245.78,101.83 L244.98,100.83 L244.18,99.84 L243.38,98.84 L242.58,97.84 L241.78,96.84 L240.97,95.83 L240.17,94.83 L239.37,93.82 L238.57,92.80 L237.77,91.79 L236.97,90.77 L236.17,89.74 L235.36,88.71 L234.56,87.68 L233.76,86.64 L232.96,85.60 L232.16,84.55 L231.36,83.50 L230.56,82.44 L229.75,81.39 L228.95,80.33 L228.15,79.26 L227.35,78.20 L226.55,77.14 L225.75,76.07 L224.95,75.00 L224.14,73.94 L223.34,72.87 L222.54,71.81 L221.74,70.74 L220.94,69.68 L220.14,68.62 L219.34,67.57 L218.53,66.51 L217.73,65.47 L216.93,64.42 L216.13,63.38 L215.33,62.35 L214.53,61.32 L213.73,60.30 L212.93,59.29 L212.12,58.28 L211.32,57.29 L210.52,56.30 L209.72,55.32 L208.92,54.35 L208.12,53.39 L207.32,52.43 L206.51,51.50 L205.71,50.57 L204.91,49.65 L204.11,48.75 L203.31,47.85 L202.51,46.98 L201.71,46.11 L200.90,45.26 L200.10,44.43 L199.30,43.61 L198.50,42.80 L197.70,42.01 L196.90,41.24 L196.10,40.49 L195.29,39.76 L194.49,39.04 L193.69,38.35 L192.89,37.67 L192.09,37.02 L191.29,36.39 L190.49,35.78 L189.68,35.20 L188.88,34.63 L188.08,34.10 L187.28,33.59 L186.48,33.10 L185.68,32.65 L184.88,32.23 L184.07,31.84 L183.27,31.49 L182.47,31.18 L181.67,30.92 L180.87,30.71 L180.07,30.55 L179.27,30.44 L178.46,30.39 L177.66,30.39 L176.86,30.46 L176.06,30.60 L175.26,30.79 L174.46,31.05 L173.66,31.37 L172.85,31.75 L172.05,32.19 L171.25,32.69 L170.45,33.25 L169.65,33.87 L168.85,34.54 L168.05,35.26 L167.24,36.04 L166.44,36.87 L165.64,37.77 L164.84,38.75 L164.04,39.82 L163.24,41.00 L162.44,42.29 L161.63,43.70 L160.83,45.25 L160.03,46.93 L159.23,48.77 L158.43,50.77 L157.63,52.93 L156.83,55.26 L156.02,57.72 L155.22,60.30 L154.42,62.98 L153.62,65.74 L152.82,68.56 L152.02,71.41 L151.22,74.28 L150.41,77.16 L149.61,80.02 L148.81,82.86 L148.01,85.66 L147.21,88.42 L146.41,91.16 L145.61,93.90 L144.80,96.68 L144.00,99.50 L143.20,102.40 L142.40,105.38 L141.60,108.46 L140.80,111.65 L140.00,114.96 L139.19,118.38 L138.39,121.84 L137.59,125.29 L136.79,128.66 L135.99,131.92 L135.19,135.01 L134.39,137.90 L133.58,140.57 L132.78,143.00 L131.98,145.23 L131.18,147.30 L130.38,149.24 L129.58,151.11 L128.78,152.92 L127.97,154.69 L127.17,156.44 L126.37,158.16 L125.57,159.86 L124.77,161.52 L123.97,163.16 L123.17,164.78 L122.36,166.36 L121.56,167.92 L120.76,169.46 L119.96,170.97 L119.16,172.44 L118.36,173.89 L117.56,175.32 L116.75,176.71 L115.95,178.08 L115.15,179.43 L114.35,180.76 L113.55,182.07 L112.75,183.36 L111.95,184.64 L111.14,185.90 L110.34,187.16 L109.54,188.40 L108.74,189.63 L107.94,190.86 L107.14,192.07 L106.34,193.28 L105.53,194.48 L104.73,195.67 L103.93,196.84 L103.13,198.00 L102.33,199.14 L101.53,200.26 L100.73,201.35 L99.92,202.43 L99.12,203.48 L98.32,204.52 L97.52,205.52 L96.72,206.50 L95.92,207.46 L95.12,208.40 L94.31,209.30 L93.51,210.19 L92.71,211.06 L91.91,211.92 L91.11,212.76 L90.31,213.60 L89.51,214.42 L88.70,215.24 L87.90,216.06 L87.10,216.86 L86.30,217.67 L85.50,218.46 L84.70,219.25 L83.90,220.04 L83.09,220.81 L82.29,221.58 L81.49,222.33 L80.69,223.05 L79.89,223.75 L79.09,224.42 L78.29,225.06 L77.49,225.66 L76.68,226.22 L75.88,226.76 L75.08,227.27 L74.28,227.76 L73.48,228.23 L72.68,228.68 L72.43,228.81 L72.18,228.95 L71.94,229.08 L71.69,229.21 L71.44,229.34 L71.19,229.47 L70.95,229.60 L70.70,229.73 L70.45,229.86 L70.20,229.99 L69.96,230.11 L69.71,230.24 L69.46,230.37 L69.22,230.49 L68.97,230.62 L68.72,230.74 L68.47,230.86 L68.23,230.98 L67.98,231.10 L67.73,231.22 L67.49,231.33 L67.24,231.43 L66.99,231.50 L66.74,231.55 L66.50,231.57 L66.25,231.55 L66.00,231.65 L65.76,231.76 L65.51,231.86 L65.26,231.97 L65.01,232.07 L64.77,232.17 L64.52,232.28 L64.27,232.38 L64.03,232.49 L63.78,232.59 L63.53,232.69 L63.28,232.80 L63.04,232.90Z" fill="#cba2a2" stroke="none"/>
<path d="M63.04,232.90 L63.28,232.84 L63.53,232.78 L63.78,232.72 L64.03,232.66 L64.27,232.60 L64.52,232.54 L64.77,232.48 L65.01,232.42 L65.26,232.36 L65.51,232.30 L65.76,232.23 L66.00,232.17 L66.25,232.11 L66.50,232.13 L66.74,232.12 L66.99,232.09 L67.24,232.05 L67.49,231.99 L67.73,231.93 L67.98,231.86 L68.23,231.79 L68.47,231.72 L68.72,231.65 L68.97,231.58 L69.22,231.51 L69.46,231.44 L69.71,231.37 L69.96,231.29 L70.20,231.22 L70.45,231.15 L70.70,231.08 L70.95,231.00 L71.19,230.93 L71.44,230.86 L71.69,230.78 L71.94,230.71 L72.18,230.63 L72.43,230.56 L72.68,230.48 L73.48,230.23 L74.28,229.97 L75.08,229.69 L75.88,229.41 L76.68,229.11 L77.49,228.79 L78.29,228.46 L79.09,228.11 L79.89,227.74 L80.69,227.36 L81.49,226.96 L82.29,226.55 L83.09,226.13 L83.90,225.70 L84.70,225.28 L85.50,224.85 L86.30,224.42 L87.10,223.99 L87.90,223.55 L88.70,223.12 L89.51,222.68 L90.31,222.24 L91.11,221.79 L91.91,221.35 L92.71,220.89 L93.51,220.43 L94.31,219.96 L95.12,219.49 L95.92,218.99 L96.72,218.49 L97.52,217.98 L98.32,217.45 L99.12,216.91 L99.92,216.36 L100.73,215.80 L101.53,215.23 L102.33,214.65 L103.13,214.06 L103.93,213.46 L104.73,212.86 L105.53,212.25 L106.34,211.63 L107.14,211.01 L107.94,210.39 L108.74,209.76 L109.54,209.13 L110.34,208.50 L111.14,207.87 L111.95,207.22 L112.75,206.58 L113.55,205.92 L114.35,205.26 L115.15,204.59 L115.95,203.92 L116.75,203.23 L117.56,202.53 L118.36,201.81 L119.16,201.09 L119.96,200.35 L120.76,199.59 L121.56,198.83 L122.36,198.05 L123.17,197.26 L123.97,196.45 L124.77,195.64 L125.57,194.81 L126.37,193.97 L127.17,193.12 L127.97,192.25 L128.78,191.37 L129.58,190.48 L130.38,189.56 L131.18,188.60 L131.98,187.57 L132.78,186.47 L133.58,185.26 L134.39,183.94 L135.19,182.49 L135.99,180.95 L136.79,179.33 L137.59,177.65 L138.39,175.94 L139.19,174.22 L140.00,172.52 L140.80,170.89 L141.60,169.31 L142.40,167.80 L143.20,166.34 L144.00,164.92 L144.80,163.55 L145.61,162.20 L146.41,160.86 L147.21,159.54 L148.01,158.20 L148.81,156.85 L149.61,155.47 L150.41,154.09 L151.22,152.70 L152.02,151.32 L152.82,149.94 L153.62,148.59 L154.42,147.27 L155.22,145.99 L156.02,144.76 L156.83,143.59 L157.63,142.49 L158.43,141.47 L159.23,140.54 L160.03,139.69 L160.83,138.91 L161.63,138.21 L162.44,137.57 L163.24,136.99 L164.04,136.48 L164.84,136.01 L165.64,135.59 L166.44,135.21 L167.24,134.86 L168.05,134.54 L168.85,134.24 L169.65,133.98 L170.45,133.74 L171.25,133.53 L172.05,133.34 L172.85,133.19 L173.66,133.06 L174.46,132.96 L175.26,132.90 L176.06,132.86 L176.86,132.86 L177.66,132.88 L178.46,132.94 L179.27,133.02 L180.07,133.13 L180.87,133.27 L181.67,133.43 L182.47,133.62 L183.27,133.82 L184.07,134.05 L184.88,134.29 L185.68,134.55 L186.48,134.82 L187.28,135.11 L188.08,135.41 L188.88,135.73 L189.68,136.05 L190.49,136.39 L191.29,136.73 L192.09,137.09 L192.89,137.45 L193.69,137.83 L194.49,138.21 L195.29,138.60 L196.10,139.00 L196.90,139.41 L197.70,139.83 L198.50,140.25 L199.30,140.69 L200.10,141.12 L200.90,141.57 L201.71,142.02 L202.51,142.48 L203.31,142.94 L204.11,143.41 L204.91,143.89 L205.71,144.37 L206.51,144.85 L207.32,145.34 L208.12,145.83 L208.92,146.33 L209.72,146.83 L210.52,147.34 L211.32,147.85 L212.12,148.36 L212.93,148.88 L213.73,149.40 L214.53,149.92 L215.33,150.44 L216.13,150.97 L216.93,151.50 L217.73,152.03 L218.53,152.56 L219.34,153.09 L220.14,153.62 L220.94,154.16 L221.74,154.69 L222.54,155.23 L223.34,155.76 L224.14,156.30 L224.95,156.83 L225.75,157.37 L226.55,157.90 L227.35,158.43 L228.15,158.96 L228.95,159.49 L229.75,160.02 L230.56,160.55 L231.36,161.07 L232.16,161.59 L232.96,162.11 L233.76,162.63 L234.56,163.15 L235.36,163.66 L236.17,164.17 L236.97,164.67 L237.77,165.18 L238.57,165.68 L239.37,166.18 L240.17,166.68 L240.97,167.17 L241.78,167.66 L242.58,168.16 L243.38,168.65 L244.18,169.14 L244.98,169.63 L245.78,170.12 L246.58,170.60 L247.39,171.09 L248.19,171.58 L248.99,172.07 L249.79,172.55 L250.59,173.04 L251.39,173.53 L252.19,174.02 L253.00,174.50 L253.80,174.99 L254.60,175.48 L255.40,175.97 L256.20,176.47 L257.00,176.96 L257.80,177.45 L258.61,177.94 L259.41,178.43 L260.21,178.92 L261.01,179.41 L261.81,179.90 L262.61,180.39 L263.41,180.87 L264.22,181.35 L265.02,181.83 L265.82,182.30 L266.62,182.77 L267.42,183.24 L268.22,183.70 L269.02,184.16 L269.83,184.62 L270.63,185.06 L271.43,185.51 L272.23,185.95 L273.03,186.38 L273.83,186.80 L274.63,187.22 L275.44,187.64 L276.24,188.05 L277.04,188.45 L277.84,188.84 L278.64,189.23 L279.44,189.62 L280.24,190.00 L281.05,190.37 L281.85,190.73 L282.65,191.10 L283.45,191.45 L284.25,191.81 L285.05,192.15 L285.85,192.50 L286.66,192.83 L287.46,193.17 L288.26,193.50 L289.06,193.82 L289.86,194.14 L290.66,194.46 L291.46,194.77 L292.27,195.08 L293.07,195.39 L293.87,195.69 L294.67,195.99 L295.47,196.29 L296.27,196.58 L297.07,196.87 L297.88,197.16 L298.68,197.45 L299.48,197.73 L300.28,198.01 L301.08,198.29 L301.88,198.56 L302.68,198.83 L303.49,199.10 L304.29,199.37 L305.09,199.63 L305.89,199.90 L306.69,200.16 L307.49,200.42 L308.29,200.68 L309.10,200.93 L309.90,201.18 L310.70,201.44 L311.50,201.69 L312.30,201.94 L313.10,202.18 L313.90,202.43 L314.71,202.67 L315.51,202.92 L316.31,203.16 L317.11,203.40 L317.91,203.64 L318.71,203.87 L319.51,204.11 L320.32,204.35 L321.12,204.58 L321.92,204.81 L322.72,205.05 L323.52,205.28 L324.32,205.51 L325.12,205.74 L325.93,205.97 L326.73,206.19 L327.53,206.42 L328.33,206.65 L329.13,206.87 L329.93,207.10 L330.73,207.32 L331.54,207.54 L332.34,207.76 L333.14,207.98 L333.94,208.20 L334.74,208.42 L335.54,208.64 L336.34,208.86 L337.15,209.07 L337.95,209.28 L338.75,209.49 L339.55,209.71 L340.35,209.91 L341.15,210.12 L341.95,210.33 L342.76,210.53 L343.56,210.73 L344.36,210.93 L345.16,211.13 L345.96,211.33 L346.76,211.53 L347.56,211.72 L348.37,211.91 L349.17,212.10 L349.97,212.29 L350.77,212.48 L351.57,212.66 L352.37,212.85 L353.17,213.03 L353.98,213.21 L354.78,213.38 L355.58,213.56 L356.38,213.73 L357.18,213.90 L357.98,214.07 L358.78,214.24 L359.58,214.40 L360.39,214.57 L361.19,214.73 L361.99,214.89 L362.79,215.05 L363.59,215.20 L364.39,215.35 L365.19,215.50 L366.00,215.65 L366.80,215.80 L367.60,215.94 L368.40,216.09 L369.20,216.23 L370.00,216.37 L370.80,216.50 L371.61,216.64 L372.41,216.77 L373.21,216.90 L374.01,217.03 L374.81,217.16 L375.61,217.29 L376.41,217.41 L377.22,217.54 L378.02,217.66 L378.82,217.78 L379.62,217.90 L380.42,218.02 L381.22,218.14 L382.02,218.25 L382.83,218.37 L383.63,218.48 L384.43,218.59 L385.23,218.71 L386.03,218.82 L386.83,218.93 L387.63,219.04 L388.44,219.14 L389.24,219.25 L390.04,219.36 L390.84,219.47 L391.64,219.57 L392.44,219.68 L393.24,219.78 L394.05,219.88 L394.85,219.99 L395.65,220.09 L396.45,220.19 L397.25,220.29 L398.05,220.39 L398.85,220.50 L399.66,220.60 L400.46,220.70 L401.26,220.80 L402.06,220.90 L402.86,220.99 L403.66,221.09 L404.46,221.19 L405.27,221.29 L406.07,221.39 L406.87,221.49 L407.67,221.58 L408.47,221.68 L409.27,221.78 L410.07,221.88 L410.88,221.97 L411.68,222.07 L412.48,222.17 L413.28,222.26 L414.08,222.36 L414.88,222.46 L415.68,222.55 L416.49,222.65 L417.29,222.75 L418.09,222.84 L418.89,222.94 L419.69,223.03 L420.49,223.13 L421.29,223.23 L422.10,223.32 L422.90,223.42 L423.70,223.52 L424.50,223.61" fill="none" stroke="#0000ff" stroke-width="1.8" stroke-dasharray="2.9 3.15" stroke-dashoffset="0" stroke-linejoin="round"/>
<path d="M63.04,232.90 L63.28,232.82 L63.53,232.74 L63.78,232.66 L64.03,232.58 L64.27,232.50 L64.52,232.42 L64.77,232.34 L65.01,232.26 L65.26,232.18 L65.51,232.10 L65.76,232.02 L66.00,231.94 L66.25,231.86 L66.50,231.88 L66.74,231.86 L66.99,231.83 L67.24,231.77 L67.49,231.70 L67.73,231.61 L67.98,231.52 L68.23,231.43 L68.47,231.34 L68.72,231.25 L68.97,231.15 L69.22,231.06 L69.46,230.97 L69.71,230.87 L69.96,230.78 L70.20,230.68 L70.45,230.59 L70.70,230.49 L70.95,230.39 L71.19,230.30 L71.44,230.20 L71.69,230.10 L71.94,230.01 L72.18,229.91 L72.43,229.81 L72.68,229.71 L73.48,229.38 L74.28,229.03 L75.08,228.67 L75.88,228.30 L76.68,227.91 L77.49,227.49 L78.29,227.06 L79.09,226.60 L79.89,226.12 L80.69,225.61 L81.49,225.09 L82.29,224.55 L83.09,224.01 L83.90,223.46 L84.70,222.90 L85.50,222.34 L86.30,221.78 L87.10,221.22 L87.90,220.65 L88.70,220.09 L89.51,219.52 L90.31,218.95 L91.11,218.37 L91.91,217.79 L92.71,217.20 L93.51,216.60 L94.31,215.99 L95.12,215.37 L95.92,214.74 L96.72,214.09 L97.52,213.42 L98.32,212.74 L99.12,212.04 L99.92,211.33 L100.73,210.60 L101.53,209.86 L102.33,209.11 L103.13,208.35 L103.93,207.58 L104.73,206.79 L105.53,206.00 L106.34,205.21 L107.14,204.40 L107.94,203.60 L108.74,202.79 L109.54,201.98 L110.34,201.16 L111.14,200.34 L111.95,199.51 L112.75,198.67 L113.55,197.83 L114.35,196.97 L115.15,196.11 L115.95,195.23 L116.75,194.34 L117.56,193.44 L118.36,192.51 L119.16,191.57 L119.96,190.62 L120.76,189.64 L121.56,188.65 L122.36,187.64 L123.17,186.62 L123.97,185.58 L124.77,184.52 L125.57,183.45 L126.37,182.37 L127.17,181.26 L127.97,180.14 L128.78,179.00 L129.58,177.84 L130.38,176.65 L131.18,175.40 L131.98,174.07 L132.78,172.64 L133.58,171.08 L134.39,169.36 L135.19,167.48 L135.99,165.48 L136.79,163.38 L137.59,161.20 L138.39,158.97 L139.19,156.74 L140.00,154.54 L140.80,152.41 L141.60,150.37 L142.40,148.40 L143.20,146.50 L144.00,144.66 L144.80,142.87 L145.61,141.11 L146.41,139.37 L147.21,137.64 L148.01,135.90 L148.81,134.14 L149.61,132.34 L150.41,130.54 L151.22,128.73 L152.02,126.92 L152.82,125.12 L153.62,123.35 L154.42,121.63 L155.22,119.95 L156.02,118.33 L156.83,116.80 L157.63,115.36 L158.43,114.02 L159.23,112.79 L160.03,111.67 L160.83,110.64 L161.63,109.71 L162.44,108.86 L163.24,108.10 L164.04,107.40 L164.84,106.77 L165.64,106.21 L166.44,105.69 L167.24,105.21 L168.05,104.78 L168.85,104.37 L169.65,104.00 L170.45,103.66 L171.25,103.36 L172.05,103.10 L172.85,102.87 L173.66,102.68 L174.46,102.53 L175.26,102.42 L176.06,102.34 L176.86,102.31 L177.66,102.32 L178.46,102.36 L179.27,102.44 L180.07,102.56 L180.87,102.71 L181.67,102.89 L182.47,103.10 L183.27,103.34 L184.07,103.60 L184.88,103.89 L185.68,104.20 L186.48,104.53 L187.28,104.87 L188.08,105.24 L188.88,105.61 L189.68,106.00 L190.49,106.41 L191.29,106.83 L192.09,107.26 L192.89,107.71 L193.69,108.16 L194.49,108.63 L195.29,109.12 L196.10,109.61 L196.90,110.11 L197.70,110.62 L198.50,111.15 L199.30,111.68 L200.10,112.22 L200.90,112.77 L201.71,113.33 L202.51,113.90 L203.31,114.47 L204.11,115.05 L204.91,115.64 L205.71,116.24 L206.51,116.84 L207.32,117.45 L208.12,118.07 L208.92,118.69 L209.72,119.32 L210.52,119.95 L211.32,120.58 L212.12,121.22 L212.93,121.87 L213.73,122.52 L214.53,123.17 L215.33,123.83 L216.13,124.49 L216.93,125.15 L217.73,125.82 L218.53,126.48 L219.34,127.15 L220.14,127.82 L220.94,128.50 L221.74,129.17 L222.54,129.84 L223.34,130.52 L224.14,131.19 L224.95,131.87 L225.75,132.54 L226.55,133.22 L227.35,133.89 L228.15,134.56 L228.95,135.23 L229.75,135.90 L230.56,136.56 L231.36,137.23 L232.16,137.89 L232.96,138.55 L233.76,139.20 L234.56,139.85 L235.36,140.50 L236.17,141.15 L236.97,141.79 L237.77,142.43 L238.57,143.07 L239.37,143.70 L240.17,144.33 L240.97,144.96 L241.78,145.59 L242.58,146.22 L243.38,146.84 L244.18,147.47 L244.98,148.09 L245.78,148.71 L246.58,149.34 L247.39,149.96 L248.19,150.58 L248.99,151.20 L249.79,151.83 L250.59,152.45 L251.39,153.08 L252.19,153.70 L253.00,154.33 L253.80,154.96 L254.60,155.59 L255.40,156.22 L256.20,156.85 L257.00,157.48 L257.80,158.12 L258.61,158.76 L259.41,159.39 L260.21,160.02 L261.01,160.66 L261.81,161.29 L262.61,161.92 L263.41,162.54 L264.22,163.17 L265.02,163.79 L265.82,164.40 L266.62,165.01 L267.42,165.62 L268.22,166.22 L269.02,166.82 L269.83,167.41 L270.63,167.99 L271.43,168.57 L272.23,169.14 L273.03,169.70 L273.83,170.26 L274.63,170.80 L275.44,171.34 L276.24,171.87 L277.04,172.40 L277.84,172.91 L278.64,173.42 L279.44,173.92 L280.24,174.41 L281.05,174.90 L281.85,175.38 L282.65,175.85 L283.45,176.32 L284.25,176.78 L285.05,177.23 L285.85,177.68 L286.66,178.12 L287.46,178.55 L288.26,178.98 L289.06,179.41 L289.86,179.83 L290.66,180.25 L291.46,180.66 L292.27,181.06 L293.07,181.46 L293.87,181.86 L294.67,182.25 L295.47,182.64 L296.27,183.03 L297.07,183.41 L297.88,183.79 L298.68,184.16 L299.48,184.53 L300.28,184.90 L301.08,185.26 L301.88,185.62 L302.68,185.98 L303.49,186.34 L304.29,186.69 L305.09,187.04 L305.89,187.39 L306.69,187.73 L307.49,188.07 L308.29,188.41 L309.10,188.75 L309.90,189.09 L310.70,189.42 L311.50,189.75 L312.30,190.08 L313.10,190.41 L313.90,190.74 L314.71,191.06 L315.51,191.38 L316.31,191.70 L317.11,192.02 L317.91,192.34 L318.71,192.66 L319.51,192.97 L320.32,193.29 L321.12,193.60 L321.92,193.91 L322.72,194.22 L323.52,194.53 L324.32,194.84 L325.12,195.15 L325.93,195.46 L326.73,195.76 L327.53,196.07 L328.33,196.37 L329.13,196.67 L329.93,196.98 L330.73,197.28 L331.54,197.58 L332.34,197.88 L333.14,198.18 L333.94,198.47 L334.74,198.77 L335.54,199.06 L336.34,199.35 L337.15,199.64 L337.95,199.93 L338.75,200.22 L339.55,200.51 L340.35,200.79 L341.15,201.07 L341.95,201.35 L342.76,201.63 L343.56,201.91 L344.36,202.18 L345.16,202.45 L345.96,202.72 L346.76,202.99 L347.56,203.25 L348.37,203.52 L349.17,203.78 L349.97,204.03 L350.77,204.29 L351.57,204.54 L352.37,204.79 L353.17,205.04 L353.98,205.29 L354.78,205.53 L355.58,205.77 L356.38,206.01 L357.18,206.24 L357.98,206.48 L358.78,206.71 L359.58,206.93 L360.39,207.16 L361.19,207.38 L361.99,207.60 L362.79,207.82 L363.59,208.03 L364.39,208.24 L365.19,208.45 L366.00,208.66 L366.80,208.86 L367.60,209.06 L368.40,209.26 L369.20,209.45 L370.00,209.65 L370.80,209.84 L371.61,210.02 L372.41,210.21 L373.21,210.39 L374.01,210.57 L374.81,210.75 L375.61,210.93 L376.41,211.10 L377.22,211.27 L378.02,211.44 L378.82,211.61 L379.62,211.78 L380.42,211.94 L381.22,212.11 L382.02,212.27 L382.83,212.43 L383.63,212.59 L384.43,212.75 L385.23,212.91 L386.03,213.06 L386.83,213.22 L387.63,213.37 L388.44,213.52 L389.24,213.67 L390.04,213.82 L390.84,213.97 L391.64,214.12 L392.44,214.27 L393.24,214.42 L394.05,214.56 L394.85,214.71 L395.65,214.85 L396.45,215.00 L397.25,215.14 L398.05,215.29 L398.85,215.43 L399.66,215.57 L400.46,215.71 L401.26,215.85 L402.06,216.00 L402.86,216.14 L403.66,216.28 L404.46,216.42 L405.27,216.56 L406.07,216.70 L406.87,216.84 L407.67,216.97 L408.47,217.11 L409.27,217.25 L410.07,217.39 L410.88,217.53 L411.68,217.67 L412.48,217.81 L413.28,217.94 L414.08,218.08 L414.88,218.22 L415.68,218.36 L416.49,218.50 L417.29,218.63 L418.09,218.77 L418.89,218.91 L419.69,219.05 L420.49,219.19 L421.29,219.32 L422.10,219.46 L422.90,219.60 L423.70,219.74 L424.50,219.87" fill="none" stroke="#0000ff" stroke-width="1.8" stroke-dasharray="2.9 3.15" stroke-dashoffset="0" stroke-linejoin="round"/>
<path d="M63.04,232.90 L63.28,232.81 L63.53,232.71 L63.78,232.62 L64.03,232.52 L64.27,232.43 L64.52,232.33 L64.77,232.24 L65.01,232.14 L65.26,232.05 L65.51,231.95 L65.76,231.86 L66.00,231.76 L66.25,231.67 L66.50,231.69 L66.74,231.67 L66.99,231.63 L67.24,231.56 L67.49,231.47 L67.73,231.37 L67.98,231.27 L68.23,231.16 L68.47,231.05 L68.72,230.94 L68.97,230.82 L69.22,230.71 L69.46,230.60 L69.71,230.48 L69.96,230.37 L70.20,230.26 L70.45,230.14 L70.70,230.02 L70.95,229.91 L71.19,229.79 L71.44,229.67 L71.69,229.56 L71.94,229.44 L72.18,229.32 L72.43,229.20 L72.68,229.08 L73.48,228.67 L74.28,228.25 L75.08,227.82 L75.88,227.36 L76.68,226.88 L77.49,226.37 L78.29,225.83 L79.09,225.26 L79.89,224.67 L80.69,224.05 L81.49,223.40 L82.29,222.73 L83.09,222.05 L83.90,221.36 L84.70,220.67 L85.50,219.97 L86.30,219.26 L87.10,218.56 L87.90,217.84 L88.70,217.13 L89.51,216.41 L90.31,215.68 L91.11,214.95 L91.91,214.21 L92.71,213.45 L93.51,212.69 L94.31,211.91 L95.12,211.12 L95.92,210.30 L96.72,209.46 L97.52,208.61 L98.32,207.73 L99.12,206.83 L99.92,205.91 L100.73,204.97 L101.53,204.02 L102.33,203.04 L103.13,202.05 L103.93,201.05 L104.73,200.03 L105.53,199.00 L106.34,197.96 L107.14,196.91 L107.94,195.86 L108.74,194.80 L109.54,193.73 L110.34,192.66 L111.14,191.58 L111.95,190.49 L112.75,189.38 L113.55,188.27 L114.35,187.14 L115.15,186.00 L115.95,184.84 L116.75,183.66 L117.56,182.46 L118.36,181.24 L119.16,180.00 L119.96,178.73 L120.76,177.43 L121.56,176.12 L122.36,174.78 L123.17,173.42 L123.97,172.03 L124.77,170.63 L125.57,169.20 L126.37,167.75 L127.17,166.28 L127.97,164.79 L128.78,163.27 L129.58,161.72 L130.38,160.13 L131.18,158.46 L131.98,156.69 L132.78,154.78 L133.58,152.70 L134.39,150.42 L135.19,147.94 L135.99,145.28 L136.79,142.49 L137.59,139.60 L138.39,136.65 L139.19,133.68 L140.00,130.76 L140.80,127.92 L141.60,125.20 L142.40,122.57 L143.20,120.03 L144.00,117.56 L144.80,115.16 L145.61,112.79 L146.41,110.46 L147.21,108.13 L148.01,105.79 L148.81,103.41 L149.61,101.00 L150.41,98.57 L151.22,96.13 L152.02,93.69 L152.82,91.28 L153.62,88.89 L154.42,86.56 L155.22,84.29 L156.02,82.10 L156.83,80.02 L157.63,78.06 L158.43,76.24 L159.23,74.57 L160.03,73.02 L160.83,71.61 L161.63,70.32 L162.44,69.15 L163.24,68.08 L164.04,67.11 L164.84,66.23 L165.64,65.42 L166.44,64.69 L167.24,64.01 L168.05,63.38 L168.85,62.80 L169.65,62.26 L170.45,61.77 L171.25,61.32 L172.05,60.93 L172.85,60.58 L173.66,60.29 L174.46,60.05 L175.26,59.86 L176.06,59.72 L176.86,59.64 L177.66,59.61 L178.46,59.63 L179.27,59.71 L180.07,59.83 L180.87,60.00 L181.67,60.21 L182.47,60.46 L183.27,60.75 L184.07,61.07 L184.88,61.43 L185.68,61.81 L186.48,62.22 L187.28,62.66 L188.08,63.12 L188.88,63.60 L189.68,64.10 L190.49,64.62 L191.29,65.16 L192.09,65.72 L192.89,66.30 L193.69,66.89 L194.49,67.51 L195.29,68.13 L196.10,68.78 L196.90,69.43 L197.70,70.11 L198.50,70.80 L199.30,71.50 L200.10,72.21 L200.90,72.94 L201.71,73.68 L202.51,74.43 L203.31,75.19 L204.11,75.96 L204.91,76.74 L205.71,77.54 L206.51,78.34 L207.32,79.15 L208.12,79.97 L208.92,80.80 L209.72,81.63 L210.52,82.48 L211.32,83.33 L212.12,84.19 L212.93,85.05 L213.73,85.92 L214.53,86.79 L215.33,87.67 L216.13,88.56 L216.93,89.45 L217.73,90.34 L218.53,91.24 L219.34,92.14 L220.14,93.05 L220.94,93.95 L221.74,94.86 L222.54,95.77 L223.34,96.67 L224.14,97.58 L224.95,98.49 L225.75,99.40 L226.55,100.31 L227.35,101.22 L228.15,102.13 L228.95,103.03 L229.75,103.93 L230.56,104.83 L231.36,105.73 L232.16,106.62 L232.96,107.52 L233.76,108.40 L234.56,109.29 L235.36,110.16 L236.17,111.04 L236.97,111.91 L237.77,112.78 L238.57,113.64 L239.37,114.50 L240.17,115.35 L240.97,116.21 L241.78,117.06 L242.58,117.91 L243.38,118.76 L244.18,119.60 L244.98,120.45 L245.78,121.29 L246.58,122.14 L247.39,122.98 L248.19,123.83 L248.99,124.67 L249.79,125.52 L250.59,126.36 L251.39,127.21 L252.19,128.06 L253.00,128.90 L253.80,129.76 L254.60,130.61 L255.40,131.46 L256.20,132.32 L257.00,133.18 L257.80,134.04 L258.61,134.90 L259.41,135.76 L260.21,136.61 L261.01,137.47 L261.81,138.32 L262.61,139.17 L263.41,140.02 L264.22,140.86 L265.02,141.70 L265.82,142.53 L266.62,143.35 L267.42,144.17 L268.22,144.98 L269.02,145.79 L269.83,146.58 L270.63,147.37 L271.43,148.15 L272.23,148.92 L273.03,149.68 L273.83,150.43 L274.63,151.17 L275.44,151.89 L276.24,152.61 L277.04,153.32 L277.84,154.01 L278.64,154.70 L279.44,155.37 L280.24,156.04 L281.05,156.69 L281.85,157.34 L282.65,157.97 L283.45,158.60 L284.25,159.22 L285.05,159.83 L285.85,160.44 L286.66,161.03 L287.46,161.62 L288.26,162.20 L289.06,162.77 L289.86,163.34 L290.66,163.90 L291.46,164.45 L292.27,165.00 L293.07,165.54 L293.87,166.07 L294.67,166.60 L295.47,167.12 L296.27,167.64 L297.07,168.15 L297.88,168.66 L298.68,169.16 L299.48,169.66 L300.28,170.15 L301.08,170.64 L301.88,171.13 L302.68,171.61 L303.49,172.08 L304.29,172.56 L305.09,173.03 L305.89,173.49 L306.69,173.95 L307.49,174.41 L308.29,174.87 L309.10,175.32 L309.90,175.77 L310.70,176.21 L311.50,176.65 L312.30,177.09 L313.10,177.53 L313.90,177.97 L314.71,178.40 L315.51,178.83 L316.31,179.26 L317.11,179.68 L317.91,180.10 L318.71,180.52 L319.51,180.94 L320.32,181.36 L321.12,181.78 L321.92,182.19 L322.72,182.60 L323.52,183.01 L324.32,183.42 L325.12,183.83 L325.93,184.23 L326.73,184.64 L327.53,185.04 L328.33,185.44 L329.13,185.84 L329.93,186.24 L330.73,186.64 L331.54,187.03 L332.34,187.43 L333.14,187.82 L333.94,188.21 L334.74,188.60 L335.54,188.98 L336.34,189.37 L337.15,189.75 L337.95,190.13 L338.75,190.51 L339.55,190.88 L340.35,191.25 L341.15,191.62 L341.95,191.99 L342.76,192.35 L343.56,192.71 L344.36,193.07 L345.16,193.42 L345.96,193.77 L346.76,194.12 L347.56,194.47 L348.37,194.81 L349.17,195.15 L349.97,195.48 L350.77,195.82 L351.57,196.15 L352.37,196.47 L353.17,196.79 L353.98,197.11 L354.78,197.43 L355.58,197.74 L356.38,198.05 L357.18,198.35 L357.98,198.66 L358.78,198.95 L359.58,199.25 L360.39,199.54 L361.19,199.82 L361.99,200.11 L362.79,200.39 L363.59,200.66 L364.39,200.94 L365.19,201.20 L366.00,201.47 L366.80,201.73 L367.60,201.99 L368.40,202.24 L369.20,202.49 L370.00,202.74 L370.80,202.98 L371.61,203.22 L372.41,203.46 L373.21,203.69 L374.01,203.92 L374.81,204.15 L375.61,204.38 L376.41,204.60 L377.22,204.82 L378.02,205.04 L378.82,205.25 L379.62,205.46 L380.42,205.68 L381.22,205.88 L382.02,206.09 L382.83,206.29 L383.63,206.50 L384.43,206.70 L385.23,206.90 L386.03,207.09 L386.83,207.29 L387.63,207.48 L388.44,207.68 L389.24,207.87 L390.04,208.06 L390.84,208.25 L391.64,208.43 L392.44,208.62 L393.24,208.80 L394.05,208.99 L394.85,209.17 L395.65,209.35 L396.45,209.54 L397.25,209.72 L398.05,209.90 L398.85,210.08 L399.66,210.25 L400.46,210.43 L401.26,210.61 L402.06,210.79 L402.86,210.96 L403.66,211.14 L404.46,211.31 L405.27,211.49 L406.07,211.66 L406.87,211.84 L407.67,212.01 L408.47,212.18 L409.27,212.36 L410.07,212.53 L410.88,212.70 L411.68,212.88 L412.48,213.05 L413.28,213.22 L414.08,213.39 L414.88,213.57 L415.68,213.74 L416.49,213.91 L417.29,214.08 L418.09,214.26 L418.89,214.43 L419.69,214.60 L420.49,214.77 L421.29,214.94 L422.10,215.12 L422.90,215.29 L423.70,215.46 L424.50,215.63" fill="none" stroke="#0000ff" stroke-width="1.8" stroke-dasharray="2.9 3.15" stroke-dashoffset="0" stroke-linejoin="round"/>
<path d="M63.04,232.90 L63.28,232.81 L63.53,232.71 L63.78,232.62 L64.03,232.52 L64.27,232.43 L64.52,232.33 L64.77,232.24 L65.01,232.14 L65.26,232.05 L65.51,231.95 L65.76,231.86 L66.00,231.76 L66.25,231.67 L66.50,231.69 L66.74,231.67 L66.99,231.63 L67.24,231.56 L67.49,231.47 L67.73,231.37 L67.98,231.27 L68.23,231.16 L68.47,231.05 L68.72,230.94 L68.97,230.82 L69.22,230.71 L69.46,230.60 L69.71,230.48 L69.96,230.37 L70.20,230.26 L70.45,230.14 L70.70,230.02 L70.95,229.91 L71.19,229.79 L71.44,229.67 L71.69,229.56 L71.94,229.44 L72.18,229.32 L72.43,229.20 L72.68,229.08 L73.48,228.67 L74.28,228.25 L75.08,227.82 L75.88,227.36 L76.68,226.88 L77.49,226.37 L78.29,225.83 L79.09,225.26 L79.89,224.67 L80.69,224.05 L81.49,223.40 L82.29,222.73 L83.09,222.05 L83.90,221.36 L84.70,220.67 L85.50,219.97 L86.30,219.26 L87.10,218.56 L87.90,217.84 L88.70,217.13 L89.51,216.41 L90.31,215.68 L91.11,214.95 L91.91,214.21 L92.71,213.45 L93.51,212.69 L94.31,211.91 L95.12,211.12 L95.92,210.30 L96.72,209.46 L97.52,208.61 L98.32,207.73 L99.12,206.83 L99.92,205.91 L100.73,204.97 L101.53,204.02 L102.33,203.04 L103.13,202.05 L103.93,201.05 L104.73,200.03 L105.53,199.00 L106.34,197.96 L107.14,196.91 L107.94,195.86 L108.74,194.80 L109.54,193.73 L110.34,192.66 L111.14,191.58 L111.95,190.49 L112.75,189.38 L113.55,188.27 L114.35,187.14 L115.15,186.00 L115.95,184.84 L116.75,183.66 L117.56,182.46 L118.36,181.24 L119.16,180.00 L119.96,178.73 L120.76,177.43 L121.56,176.12 L122.36,174.78 L123.17,173.42 L123.97,172.03 L124.77,170.63 L125.57,169.20 L126.37,167.75 L127.17,166.28 L127.97,164.79 L128.78,163.27 L129.58,161.72 L130.38,160.13 L131.18,158.46 L131.98,156.69 L132.78,154.78 L133.58,152.70 L134.39,150.42 L135.19,147.94 L135.99,145.28 L136.79,142.49 L137.59,139.60 L138.39,136.65 L139.19,133.68 L140.00,130.76 L140.80,127.92 L141.60,125.20 L142.40,122.57 L143.20,120.03 L144.00,117.56 L144.80,115.16 L145.61,112.79 L146.41,110.46 L147.21,108.13 L148.01,105.79 L148.81,103.41 L149.61,101.00 L150.41,98.57 L151.22,96.13 L152.02,93.69 L152.82,91.28 L153.62,88.89 L154.42,86.56 L155.22,84.29 L156.02,82.10 L156.83,80.02 L157.63,78.06 L158.43,76.24 L159.23,74.57 L160.03,73.02 L160.83,71.61 L161.63,70.32 L162.44,69.15 L163.24,68.08 L164.04,67.11 L164.84,66.23 L165.64,65.42 L166.44,64.69 L167.24,64.01 L168.05,63.38 L168.85,62.80 L169.65,62.26 L170.45,61.77 L171.25,61.32 L172.05,60.93 L172.85,60.58 L173.66,60.29 L174.46,60.05 L175.26,59.86 L176.06,59.72 L176.86,59.64 L177.66,59.61 L178.46,59.63 L179.27,59.71 L180.07,59.83 L180.87,60.00 L181.67,60.21 L182.47,60.46 L183.27,60.75 L184.07,61.07 L184.88,61.43 L185.68,61.81 L186.48,62.22 L187.28,62.66 L188.08,63.12 L188.88,63.60 L189.68,64.10 L190.49,64.62 L191.29,65.16 L192.09,65.72 L192.89,66.30 L193.69,66.89 L194.49,67.51 L195.29,68.13 L196.10,68.78 L196.90,69.43 L197.70,70.11 L198.50,70.80 L199.30,71.50 L200.10,72.21 L200.90,72.94 L201.71,73.68 L202.51,74.43 L203.31,75.19 L204.11,75.96 L204.91,76.74 L205.71,77.54 L206.51,78.34 L207.32,79.15 L208.12,79.97 L208.92,80.80 L209.72,81.63 L210.52,82.48 L211.32,83.33 L212.12,84.19 L212.93,85.05 L213.73,85.92 L214.53,86.79 L215.33,87.67 L216.13,88.56 L216.93,89.45 L217.73,90.34 L218.53,91.24 L219.34,92.14 L220.14,93.05 L220.94,93.95 L221.74,94.86 L222.54,95.77 L223.34,96.67 L224.14,97.58 L224.95,98.49 L225.75,99.40 L226.55,100.31 L227.35,101.22 L228.15,102.13 L228.95,103.03 L229.75,103.93 L230.56,104.83 L231.36,105.73 L232.16,106.62 L232.96,107.52 L233.76,108.40 L234.56,109.29 L235.36,110.16 L236.17,111.04 L236.97,111.91 L237.77,112.78 L238.57,113.64 L239.37,114.50 L240.17,115.35 L240.97,116.21 L241.78,117.06 L242.58,117.91 L243.38,118.76 L244.18,119.60 L244.98,120.45 L245.78,121.29 L246.58,122.14 L247.39,122.98 L248.19,123.83 L248.99,124.67 L249.79,125.52 L250.59,126.36 L251.39,127.21 L252.19,128.06 L253.00,128.90 L253.80,129.76 L254.60,130.61 L255.40,131.46 L256.20,132.32 L257.00,133.18 L257.80,134.04 L258.61,134.90 L259.41,135.76 L260.21,136.61 L261.01,137.47 L261.81,138.32 L262.61,139.17 L263.41,140.02 L264.22,140.86 L265.02,141.70 L265.82,142.53 L266.62,143.35 L267.42,144.17 L268.22,144.98 L269.02,145.79 L269.83,146.58 L270.63,147.37 L271.43,148.15 L272.23,148.92 L273.03,149.68 L273.83,150.43 L274.63,151.17 L275.44,151.89 L276.24,152.61 L277.04,153.32 L277.84,154.01 L278.64,154.70 L279.44,155.37 L280.24,156.04 L281.05,156.69 L281.85,157.34 L282.65,157.97 L283.45,158.60 L284.25,159.22 L285.05,159.83 L285.85,160.44 L286.66,161.03 L287.46,161.62 L288.26,162.20 L289.06,162.77 L289.86,163.34 L290.66,163.90 L291.46,164.45 L292.27,165.00 L293.07,165.54 L293.87,166.07 L294.67,166.60 L295.47,167.12 L296.27,167.64 L297.07,168.15 L297.88,168.66 L298.68,169.16 L299.48,169.66 L300.28,170.15 L301.08,170.64 L301.88,171.13 L302.68,171.61 L303.49,172.08 L304.29,172.56 L305.09,173.03 L305.89,173.49 L306.69,173.95 L307.49,174.41 L308.29,174.87 L309.10,175.32 L309.90,175.77 L310.70,176.21 L311.50,176.65 L312.30,177.09 L313.10,177.53 L313.90,177.97 L314.71,178.40 L315.51,178.83 L316.31,179.26 L317.11,179.68 L317.91,180.10 L318.71,180.52 L319.51,180.94 L320.32,181.36 L321.12,181.78 L321.92,182.19 L322.72,182.60 L323.52,183.01 L324.32,183.42 L325.12,183.83 L325.93,184.23 L326.73,184.64 L327.53,185.04 L328.33,185.44 L329.13,185.84 L329.93,186.24 L330.73,186.64 L331.54,187.03 L332.34,187.43 L333.14,187.82 L333.94,188.21 L334.74,188.60 L335.54,188.98 L336.34,189.37 L337.15,189.75 L337.95,190.13 L338.75,190.51 L339.55,190.88 L340.35,191.25 L341.15,191.62 L341.95,191.99 L342.76,192.35 L343.56,192.71 L344.36,193.07 L345.16,193.42 L345.96,193.77 L346.76,194.12 L347.56,194.47 L348.37,194.81 L349.17,195.15 L349.97,195.48 L350.77,195.82 L351.57,196.15 L352.37,196.47 L353.17,196.79 L353.98,197.11 L354.78,197.43 L355.58,197.74 L356.38,198.05 L357.18,198.35 L357.98,198.66 L358.78,198.95 L359.58,199.25 L360.39,199.54 L361.19,199.82 L361.99,200.11 L362.79,200.39 L363.59,200.66 L364.39,200.94 L365.19,201.20 L366.00,201.47 L366.80,201.73 L367.60,201.99 L368.40,202.24 L369.20,202.49 L370.00,202.74 L370.80,202.98 L371.61,203.22 L372.41,203.46 L373.21,203.69 L374.01,203.92 L374.81,204.15 L375.61,204.38 L376.41,204.60 L377.22,204.82 L378.02,205.04 L378.82,205.25 L379.62,205.46 L380.42,205.68 L381.22,205.88 L382.02,206.09 L382.83,206.29 L383.63,206.50 L384.43,206.70 L385.23,206.90 L386.03,207.09 L386.83,207.29 L387.63,207.48 L388.44,207.68 L389.24,207.87 L390.04,208.06 L390.84,208.25 L391.64,208.43 L392.44,208.62 L393.24,208.80 L394.05,208.99 L394.85,209.17 L395.65,209.35 L396.45,209.54 L397.25,209.72 L398.05,209.90 L398.85,210.08 L399.66,210.25 L400.46,210.43 L401.26,210.61 L402.06,210.79 L402.86,210.96 L403.66,211.14 L404.46,211.31 L405.27,211.49 L406.07,211.66 L406.87,211.84 L407.67,212.01 L408.47,212.18 L409.27,212.36 L410.07,212.53 L410.88,212.70 L411.68,212.88 L412.48,213.05 L413.28,213.22 L414.08,213.39 L414.88,213.57 L415.68,213.74 L416.49,213.91 L417.29,214.08 L418.09,214.26 L418.89,214.43 L419.69,214.60 L420.49,214.77 L421.29,214.94 L422.10,215.12 L422.90,215.29 L423.70,215.46 L424.50,215.63" fill="none" stroke="#ff0000" stroke-width="1.8" stroke-dasharray="6.55 2.9" stroke-dashoffset="0" stroke-linejoin="round"/>
<path d="M63.04,232.90 L63.28,232.80 L63.53,232.70 L63.78,232.60 L64.03,232.49 L64.27,232.39 L64.52,232.29 L64.77,232.19 L65.01,232.09 L65.26,231.99 L65.51,231.88 L65.76,231.78 L66.00,231.68 L66.25,231.58 L66.50,231.60 L66.74,231.58 L66.99,231.53 L67.24,231.46 L67.49,231.37 L67.73,231.26 L67.98,231.14 L68.23,231.03 L68.47,230.91 L68.72,230.79 L68.97,230.67 L69.22,230.54 L69.46,230.42 L69.71,230.30 L69.96,230.17 L70.20,230.05 L70.45,229.92 L70.70,229.80 L70.95,229.67 L71.19,229.55 L71.44,229.42 L71.69,229.29 L71.94,229.16 L72.18,229.03 L72.43,228.90 L72.68,228.77 L73.48,228.33 L74.28,227.87 L75.08,227.39 L75.88,226.89 L76.68,226.36 L77.49,225.80 L78.29,225.21 L79.09,224.59 L79.89,223.93 L80.69,223.24 L81.49,222.53 L82.29,221.79 L83.09,221.04 L83.90,220.28 L84.70,219.51 L85.50,218.73 L86.30,217.95 L87.10,217.16 L87.90,216.36 L88.70,215.56 L89.51,214.76 L90.31,213.94 L91.11,213.12 L91.91,212.29 L92.71,211.45 L93.51,210.59 L94.31,209.71 L95.12,208.82 L95.92,207.90 L96.72,206.96 L97.52,205.99 L98.32,205.00 L99.12,203.98 L99.92,202.94 L100.73,201.88 L101.53,200.80 L102.33,199.70 L103.13,198.58 L103.93,197.44 L104.73,196.29 L105.53,195.12 L106.34,193.94 L107.14,192.75 L107.94,191.55 L108.74,190.34 L109.54,189.13 L110.34,187.90 L111.14,186.67 L111.95,185.42 L112.75,184.17 L113.55,182.89 L114.35,181.61 L115.15,180.30 L115.95,178.97 L116.75,177.63 L117.56,176.25 L118.36,174.85 L119.16,173.43 L119.96,171.97 L120.76,170.49 L121.56,168.98 L122.36,167.45 L123.17,165.89 L123.97,164.30 L124.77,162.69 L125.57,161.05 L126.37,159.39 L127.17,157.70 L127.97,155.98 L128.78,154.24 L129.58,152.46 L130.38,150.63 L131.18,148.72 L131.98,146.69 L132.78,144.50 L133.58,142.12 L134.39,139.51 L135.19,136.66 L135.99,133.63 L136.79,130.43 L137.59,127.12 L138.39,123.74 L139.19,120.35 L140.00,117.00 L140.80,113.75 L141.60,110.62 L142.40,107.61 L143.20,104.69 L144.00,101.86 L144.80,99.09 L145.61,96.37 L146.41,93.69 L147.21,91.01 L148.01,88.31 L148.81,85.58 L149.61,82.81 L150.41,80.01 L151.22,77.20 L152.02,74.39 L152.82,71.61 L153.62,68.86 L154.42,66.17 L155.22,63.56 L156.02,61.04 L156.83,58.64 L157.63,56.38 L158.43,54.28 L159.23,52.34 L160.03,50.56 L160.83,48.92 L161.63,47.43 L162.44,46.06 L163.24,44.82 L164.04,43.69 L164.84,42.66 L165.64,41.72 L166.44,40.86 L167.24,40.07 L168.05,39.33 L168.85,38.65 L169.65,38.02 L170.45,37.44 L171.25,36.92 L172.05,36.46 L172.85,36.05 L173.66,35.70 L174.46,35.41 L175.26,35.19 L176.06,35.02 L176.86,34.92 L177.66,34.87 L178.46,34.89 L179.27,34.97 L180.07,35.11 L180.87,35.29 L181.67,35.53 L182.47,35.81 L183.27,36.14 L184.07,36.50 L184.88,36.91 L185.68,37.35 L186.48,37.82 L187.28,38.32 L188.08,38.85 L188.88,39.40 L189.68,39.98 L190.49,40.57 L191.29,41.20 L192.09,41.84 L192.89,42.50 L193.69,43.19 L194.49,43.89 L195.29,44.62 L196.10,45.36 L196.90,46.12 L197.70,46.90 L198.50,47.69 L199.30,48.51 L200.10,49.33 L200.90,50.17 L201.71,51.03 L202.51,51.90 L203.31,52.78 L204.11,53.67 L204.91,54.58 L205.71,55.50 L206.51,56.43 L207.32,57.37 L208.12,58.32 L208.92,59.28 L209.72,60.25 L210.52,61.23 L211.32,62.21 L212.12,63.21 L212.93,64.21 L213.73,65.22 L214.53,66.24 L215.33,67.26 L216.13,68.28 L216.93,69.32 L217.73,70.35 L218.53,71.40 L219.34,72.44 L220.14,73.49 L220.94,74.54 L221.74,75.59 L222.54,76.65 L223.34,77.70 L224.14,78.76 L224.95,79.81 L225.75,80.87 L226.55,81.92 L227.35,82.98 L228.15,84.03 L228.95,85.08 L229.75,86.12 L230.56,87.17 L231.36,88.21 L232.16,89.25 L232.96,90.28 L233.76,91.31 L234.56,92.33 L235.36,93.35 L236.17,94.37 L236.97,95.38 L237.77,96.38 L238.57,97.38 L239.37,98.38 L240.17,99.37 L240.97,100.36 L241.78,101.35 L242.58,102.33 L243.38,103.32 L244.18,104.30 L244.98,105.28 L245.78,106.26 L246.58,107.23 L247.39,108.21 L248.19,109.19 L248.99,110.17 L249.79,111.14 L250.59,112.12 L251.39,113.10 L252.19,114.08 L253.00,115.06 L253.80,116.04 L254.60,117.03 L255.40,118.02 L256.20,119.00 L257.00,119.99 L257.80,120.98 L258.61,121.97 L259.41,122.96 L260.21,123.95 L261.01,124.94 L261.81,125.92 L262.61,126.90 L263.41,127.87 L264.22,128.84 L265.02,129.80 L265.82,130.76 L266.62,131.71 L267.42,132.65 L268.22,133.58 L269.02,134.50 L269.83,135.42 L270.63,136.32 L271.43,137.22 L272.23,138.10 L273.03,138.97 L273.83,139.83 L274.63,140.68 L275.44,141.51 L276.24,142.34 L277.04,143.15 L277.84,143.94 L278.64,144.73 L279.44,145.50 L280.24,146.26 L281.05,147.01 L281.85,147.75 L282.65,148.48 L283.45,149.20 L284.25,149.91 L285.05,150.61 L285.85,151.30 L286.66,151.98 L287.46,152.65 L288.26,153.32 L289.06,153.97 L289.86,154.62 L290.66,155.26 L291.46,155.89 L292.27,156.51 L293.07,157.13 L293.87,157.74 L294.67,158.34 L295.47,158.94 L296.27,159.53 L297.07,160.12 L297.88,160.69 L298.68,161.27 L299.48,161.83 L300.28,162.39 L301.08,162.95 L301.88,163.50 L302.68,164.05 L303.49,164.59 L304.29,165.13 L305.09,165.66 L305.89,166.19 L306.69,166.71 L307.49,167.23 L308.29,167.75 L309.10,168.26 L309.90,168.77 L310.70,169.27 L311.50,169.77 L312.30,170.27 L313.10,170.76 L313.90,171.25 L314.71,171.74 L315.51,172.23 L316.31,172.71 L317.11,173.19 L317.91,173.67 L318.71,174.14 L319.51,174.62 L320.32,175.09 L321.12,175.55 L321.92,176.02 L322.72,176.48 L323.52,176.94 L324.32,177.40 L325.12,177.86 L325.93,178.31 L326.73,178.77 L327.53,179.22 L328.33,179.67 L329.13,180.12 L329.93,180.57 L330.73,181.01 L331.54,181.45 L332.34,181.90 L333.14,182.33 L333.94,182.77 L334.74,183.20 L335.54,183.64 L336.34,184.06 L337.15,184.49 L337.95,184.91 L338.75,185.33 L339.55,185.75 L340.35,186.16 L341.15,186.58 L341.95,186.98 L342.76,187.39 L343.56,187.79 L344.36,188.19 L345.16,188.58 L345.96,188.97 L346.76,189.36 L347.56,189.74 L348.37,190.12 L349.17,190.50 L349.97,190.87 L350.77,191.24 L351.57,191.60 L352.37,191.96 L353.17,192.32 L353.98,192.67 L354.78,193.02 L355.58,193.37 L356.38,193.71 L357.18,194.04 L357.98,194.38 L358.78,194.71 L359.58,195.03 L360.39,195.35 L361.19,195.67 L361.99,195.98 L362.79,196.29 L363.59,196.59 L364.39,196.89 L365.19,197.18 L366.00,197.47 L366.80,197.76 L367.60,198.04 L368.40,198.32 L369.20,198.60 L370.00,198.87 L370.80,199.13 L371.61,199.39 L372.41,199.65 L373.21,199.91 L374.01,200.16 L374.81,200.41 L375.61,200.65 L376.41,200.90 L377.22,201.13 L378.02,201.37 L378.82,201.60 L379.62,201.83 L380.42,202.06 L381.22,202.29 L382.02,202.51 L382.83,202.73 L383.63,202.95 L384.43,203.17 L385.23,203.38 L386.03,203.60 L386.83,203.81 L387.63,204.02 L388.44,204.23 L389.24,204.43 L390.04,204.64 L390.84,204.84 L391.64,205.04 L392.44,205.24 L393.24,205.44 L394.05,205.64 L394.85,205.84 L395.65,206.03 L396.45,206.23 L397.25,206.42 L398.05,206.61 L398.85,206.81 L399.66,207.00 L400.46,207.19 L401.26,207.38 L402.06,207.57 L402.86,207.76 L403.66,207.94 L404.46,208.13 L405.27,208.32 L406.07,208.51 L406.87,208.69 L407.67,208.88 L408.47,209.07 L409.27,209.25 L410.07,209.44 L410.88,209.62 L411.68,209.81 L412.48,209.99 L413.28,210.18 L414.08,210.36 L414.88,210.55 L415.68,210.73 L416.49,210.92 L417.29,211.10 L418.09,211.29 L418.89,211.47 L419.69,211.66 L420.49,211.84 L421.29,212.03 L422.10,212.22 L422.90,212.40 L423.70,212.59 L424.50,212.77" fill="none" stroke="#ff0000" stroke-width="1.8" stroke-dasharray="6.55 2.9" stroke-dashoffset="0" stroke-linejoin="round"/>
<path d="M63.04,232.90 L63.28,232.77 L63.53,232.64 L63.78,232.51 L64.03,232.39 L64.27,232.26 L64.52,232.13 L64.77,232.00 L65.01,231.87 L65.26,231.74 L65.51,231.62 L65.76,231.49 L66.00,231.36 L66.25,231.23 L66.50,231.26 L66.74,231.24 L66.99,231.18 L67.24,231.08 L67.49,230.97 L67.73,230.83 L67.98,230.69 L68.23,230.54 L68.47,230.39 L68.72,230.24 L68.97,230.09 L69.22,229.94 L69.46,229.78 L69.71,229.63 L69.96,229.47 L70.20,229.32 L70.45,229.16 L70.70,229.01 L70.95,228.85 L71.19,228.69 L71.44,228.53 L71.69,228.37 L71.94,228.21 L72.18,228.05 L72.43,227.89 L72.68,227.73 L73.48,227.18 L74.28,226.62 L75.08,226.03 L75.88,225.41 L76.68,224.76 L77.49,224.08 L78.29,223.35 L79.09,222.59 L79.89,221.79 L80.69,220.95 L81.49,220.08 L82.29,219.19 L83.09,218.27 L83.90,217.35 L84.70,216.42 L85.50,215.48 L86.30,214.53 L87.10,213.58 L87.90,212.63 L88.70,211.67 L89.51,210.71 L90.31,209.73 L91.11,208.75 L91.91,207.76 L92.71,206.76 L93.51,205.74 L94.31,204.70 L95.12,203.64 L95.92,202.55 L96.72,201.43 L97.52,200.29 L98.32,199.12 L99.12,197.92 L99.92,196.70 L100.73,195.45 L101.53,194.17 L102.33,192.88 L103.13,191.56 L103.93,190.22 L104.73,188.87 L105.53,187.50 L106.34,186.12 L107.14,184.73 L107.94,183.33 L108.74,181.92 L109.54,180.51 L110.34,179.09 L111.14,177.65 L111.95,176.20 L112.75,174.75 L113.55,173.27 L114.35,171.78 L115.15,170.27 L115.95,168.73 L116.75,167.17 L117.56,165.59 L118.36,163.97 L119.16,162.32 L119.96,160.65 L120.76,158.94 L121.56,157.20 L122.36,155.43 L123.17,153.63 L123.97,151.81 L124.77,149.95 L125.57,148.07 L126.37,146.16 L127.17,144.22 L127.97,142.25 L128.78,140.24 L129.58,138.21 L130.38,136.11 L131.18,133.91 L131.98,131.58 L132.78,129.06 L133.58,126.32 L134.39,123.31 L135.19,120.03 L135.99,116.54 L136.79,112.86 L137.59,109.05 L138.39,105.16 L139.19,101.26 L140.00,97.41 L140.80,93.69 L141.60,90.11 L142.40,86.66 L143.20,83.33 L144.00,80.10 L144.80,76.95 L145.61,73.87 L146.41,70.81 L147.21,67.77 L148.01,64.72 L148.81,61.61 L149.61,58.47 L150.41,55.29 L151.22,52.11 L152.02,48.93 L152.82,45.78 L153.62,42.68 L154.42,39.64 L155.22,36.69 L156.02,33.85 L156.83,31.16 L157.63,28.62 L158.43,26.27 L159.23,24.10 L160.03,22.12 L160.83,20.31 L161.63,18.66 L162.44,17.16 L163.24,15.81 L164.04,14.58 L164.84,13.47 L165.64,12.46 L166.44,11.54 L167.24,10.70 L168.05,9.92 L168.85,9.20 L169.65,8.55 L170.45,7.95 L171.25,7.42 L172.05,6.95 L172.85,6.55 L173.66,6.22 L174.46,5.95 L175.26,5.75 L176.06,5.62 L176.86,5.57 L177.66,5.58 L178.46,5.65 L179.27,5.78 L180.07,5.98 L180.87,6.24 L181.67,6.55 L182.47,6.91 L183.27,7.32 L184.07,7.78 L184.88,8.28 L185.68,8.82 L186.48,9.40 L187.28,10.01 L188.08,10.64 L188.88,11.30 L189.68,11.99 L190.49,12.71 L191.29,13.45 L192.09,14.21 L192.89,15.00 L193.69,15.81 L194.49,16.64 L195.29,17.50 L196.10,18.37 L196.90,19.26 L197.70,20.17 L198.50,21.10 L199.30,22.05 L200.10,23.01 L200.90,23.99 L201.71,24.99 L202.51,26.00 L203.31,27.02 L204.11,28.06 L204.91,29.11 L205.71,30.17 L206.51,31.25 L207.32,32.34 L208.12,33.44 L208.92,34.54 L209.72,35.66 L210.52,36.79 L211.32,37.93 L212.12,39.07 L212.93,40.22 L213.73,41.38 L214.53,42.55 L215.33,43.73 L216.13,44.90 L216.93,46.09 L217.73,47.28 L218.53,48.47 L219.34,49.67 L220.14,50.87 L220.94,52.07 L221.74,53.28 L222.54,54.49 L223.34,55.69 L224.14,56.90 L224.95,58.11 L225.75,59.31 L226.55,60.52 L227.35,61.72 L228.15,62.92 L228.95,64.12 L229.75,65.31 L230.56,66.50 L231.36,67.69 L232.16,68.88 L232.96,70.05 L233.76,71.23 L234.56,72.40 L235.36,73.56 L236.17,74.71 L236.97,75.86 L237.77,77.01 L238.57,78.15 L239.37,79.28 L240.17,80.41 L240.97,81.53 L241.78,82.65 L242.58,83.76 L243.38,84.87 L244.18,85.98 L244.98,87.09 L245.78,88.20 L246.58,89.31 L247.39,90.41 L248.19,91.52 L248.99,92.62 L249.79,93.73 L250.59,94.84 L251.39,95.95 L252.19,97.06 L253.00,98.17 L253.80,99.28 L254.60,100.40 L255.40,101.51 L256.20,102.63 L257.00,103.76 L257.80,104.88 L258.61,106.00 L259.41,107.12 L260.21,108.25 L261.01,109.36 L261.81,110.48 L262.61,111.59 L263.41,112.69 L264.22,113.79 L265.02,114.88 L265.82,115.97 L266.62,117.04 L267.42,118.11 L268.22,119.17 L269.02,120.22 L269.83,121.26 L270.63,122.28 L271.43,123.30 L272.23,124.30 L273.03,125.29 L273.83,126.27 L274.63,127.23 L275.44,128.18 L276.24,129.12 L277.04,130.04 L277.84,130.95 L278.64,131.84 L279.44,132.72 L280.24,133.58 L281.05,134.44 L281.85,135.28 L282.65,136.11 L283.45,136.93 L284.25,137.74 L285.05,138.53 L285.85,139.32 L286.66,140.09 L287.46,140.86 L288.26,141.62 L289.06,142.36 L289.86,143.10 L290.66,143.83 L291.46,144.55 L292.27,145.26 L293.07,145.97 L293.87,146.66 L294.67,147.35 L295.47,148.03 L296.27,148.71 L297.07,149.37 L297.88,150.03 L298.68,150.69 L299.48,151.34 L300.28,151.98 L301.08,152.62 L301.88,153.25 L302.68,153.87 L303.49,154.49 L304.29,155.11 L305.09,155.72 L305.89,156.32 L306.69,156.92 L307.49,157.52 L308.29,158.11 L309.10,158.70 L309.90,159.28 L310.70,159.86 L311.50,160.44 L312.30,161.01 L313.10,161.58 L313.90,162.14 L314.71,162.71 L315.51,163.27 L316.31,163.82 L317.11,164.37 L317.91,164.92 L318.71,165.47 L319.51,166.02 L320.32,166.56 L321.12,167.10 L321.92,167.63 L322.72,168.17 L323.52,168.70 L324.32,169.23 L325.12,169.76 L325.93,170.29 L326.73,170.81 L327.53,171.34 L328.33,171.86 L329.13,172.38 L329.93,172.89 L330.73,173.41 L331.54,173.92 L332.34,174.43 L333.14,174.94 L333.94,175.45 L334.74,175.95 L335.54,176.45 L336.34,176.95 L337.15,177.45 L337.95,177.94 L338.75,178.43 L339.55,178.91 L340.35,179.39 L341.15,179.87 L341.95,180.34 L342.76,180.82 L343.56,181.28 L344.36,181.75 L345.16,182.21 L345.96,182.67 L346.76,183.12 L347.56,183.57 L348.37,184.02 L349.17,184.46 L349.97,184.89 L350.77,185.33 L351.57,185.76 L352.37,186.18 L353.17,186.60 L353.98,187.01 L354.78,187.42 L355.58,187.83 L356.38,188.23 L357.18,188.63 L357.98,189.02 L358.78,189.41 L359.58,189.79 L360.39,190.17 L361.19,190.54 L361.99,190.91 L362.79,191.27 L363.59,191.63 L364.39,191.99 L365.19,192.34 L366.00,192.68 L366.80,193.02 L367.60,193.36 L368.40,193.69 L369.20,194.01 L370.00,194.33 L370.80,194.65 L371.61,194.96 L372.41,195.27 L373.21,195.57 L374.01,195.87 L374.81,196.17 L375.61,196.46 L376.41,196.75 L377.22,197.04 L378.02,197.32 L378.82,197.60 L379.62,197.88 L380.42,198.15 L381.22,198.42 L382.02,198.69 L382.83,198.95 L383.63,199.22 L384.43,199.48 L385.23,199.74 L386.03,199.99 L386.83,200.25 L387.63,200.50 L388.44,200.75 L389.24,201.00 L390.04,201.24 L390.84,201.49 L391.64,201.73 L392.44,201.97 L393.24,202.21 L394.05,202.45 L394.85,202.69 L395.65,202.93 L396.45,203.16 L397.25,203.40 L398.05,203.63 L398.85,203.86 L399.66,204.10 L400.46,204.33 L401.26,204.56 L402.06,204.78 L402.86,205.01 L403.66,205.24 L404.46,205.47 L405.27,205.69 L406.07,205.92 L406.87,206.15 L407.67,206.37 L408.47,206.60 L409.27,206.82 L410.07,207.04 L410.88,207.27 L411.68,207.49 L412.48,207.71 L413.28,207.94 L414.08,208.16 L414.88,208.38 L415.68,208.60 L416.49,208.83 L417.29,209.05 L418.09,209.27 L418.89,209.49 L419.69,209.71 L420.49,209.94 L421.29,210.16 L422.10,210.38 L422.90,210.60 L423.70,210.82 L424.50,211.05" fill="none" stroke="#ff0000" stroke-width="1.8" stroke-dasharray="6.55 2.9" stroke-dashoffset="0" stroke-linejoin="round"/>
<path d="M63.04,232.90 L63.28,232.80 L63.53,232.69 L63.78,232.59 L64.03,232.49 L64.27,232.38 L64.52,232.28 L64.77,232.17 L65.01,232.07 L65.26,231.97 L65.51,231.86 L65.76,231.76 L66.00,231.65 L66.25,231.55 L66.50,231.57 L66.74,231.55 L66.99,231.50 L67.24,231.43 L67.49,231.33 L67.73,231.22 L67.98,231.10 L68.23,230.98 L68.47,230.86 L68.72,230.74 L68.97,230.62 L69.22,230.49 L69.46,230.37 L69.71,230.24 L69.96,230.11 L70.20,229.99 L70.45,229.86 L70.70,229.73 L70.95,229.60 L71.19,229.47 L71.44,229.34 L71.69,229.21 L71.94,229.08 L72.18,228.95 L72.43,228.81 L72.68,228.68 L73.48,228.23 L74.28,227.76 L75.08,227.27 L75.88,226.76 L76.68,226.22 L77.49,225.66 L78.29,225.06 L79.09,224.42 L79.89,223.75 L80.69,223.05 L81.49,222.33 L82.29,221.58 L83.09,220.81 L83.90,220.04 L84.70,219.25 L85.50,218.46 L86.30,217.67 L87.10,216.86 L87.90,216.06 L88.70,215.24 L89.51,214.42 L90.31,213.60 L91.11,212.76 L91.91,211.92 L92.71,211.06 L93.51,210.19 L94.31,209.30 L95.12,208.40 L95.92,207.46 L96.72,206.50 L97.52,205.52 L98.32,204.52 L99.12,203.48 L99.92,202.43 L100.73,201.35 L101.53,200.26 L102.33,199.14 L103.13,198.00 L103.93,196.84 L104.73,195.67 L105.53,194.48 L106.34,193.28 L107.14,192.07 L107.94,190.86 L108.74,189.63 L109.54,188.40 L110.34,187.16 L111.14,185.90 L111.95,184.64 L112.75,183.36 L113.55,182.07 L114.35,180.76 L115.15,179.43 L115.95,178.08 L116.75,176.71 L117.56,175.32 L118.36,173.89 L119.16,172.44 L119.96,170.97 L120.76,169.46 L121.56,167.92 L122.36,166.36 L123.17,164.78 L123.97,163.16 L124.77,161.52 L125.57,159.86 L126.37,158.16 L127.17,156.44 L127.97,154.69 L128.78,152.92 L129.58,151.11 L130.38,149.24 L131.18,147.30 L131.98,145.23 L132.78,143.00 L133.58,140.57 L134.39,137.90 L135.19,135.01 L135.99,131.92 L136.79,128.66 L137.59,125.29 L138.39,121.84 L139.19,118.38 L140.00,114.96 L140.80,111.65 L141.60,108.46 L142.40,105.38 L143.20,102.40 L144.00,99.50 L144.80,96.68 L145.61,93.90 L146.41,91.16 L147.21,88.42 L148.01,85.66 L148.81,82.86 L149.61,80.02 L150.41,77.16 L151.22,74.28 L152.02,71.41 L152.82,68.56 L153.62,65.74 L154.42,62.98 L155.22,60.30 L156.02,57.72 L156.83,55.26 L157.63,52.93 L158.43,50.77 L159.23,48.77 L160.03,46.93 L160.83,45.25 L161.63,43.70 L162.44,42.29 L163.24,41.00 L164.04,39.82 L164.84,38.75 L165.64,37.77 L166.44,36.87 L167.24,36.04 L168.05,35.26 L168.85,34.54 L169.65,33.87 L170.45,33.25 L171.25,32.69 L172.05,32.19 L172.85,31.75 L173.66,31.37 L174.46,31.05 L175.26,30.79 L176.06,30.60 L176.86,30.46 L177.66,30.39 L178.46,30.39 L179.27,30.44 L180.07,30.55 L180.87,30.71 L181.67,30.92 L182.47,31.18 L183.27,31.49 L184.07,31.84 L184.88,32.23 L185.68,32.65 L186.48,33.10 L187.28,33.59 L188.08,34.10 L188.88,34.63 L189.68,35.20 L190.49,35.78 L191.29,36.39 L192.09,37.02 L192.89,37.67 L193.69,38.35 L194.49,39.04 L195.29,39.76 L196.10,40.49 L196.90,41.24 L197.70,42.01 L198.50,42.80 L199.30,43.61 L200.10,44.43 L200.90,45.26 L201.71,46.11 L202.51,46.98 L203.31,47.85 L204.11,48.75 L204.91,49.65 L205.71,50.57 L206.51,51.50 L207.32,52.43 L208.12,53.39 L208.92,54.35 L209.72,55.32 L210.52,56.30 L211.32,57.29 L212.12,58.28 L212.93,59.29 L213.73,60.30 L214.53,61.32 L215.33,62.35 L216.13,63.38 L216.93,64.42 L217.73,65.47 L218.53,66.51 L219.34,67.57 L220.14,68.62 L220.94,69.68 L221.74,70.74 L222.54,71.81 L223.34,72.87 L224.14,73.94 L224.95,75.00 L225.75,76.07 L226.55,77.14 L227.35,78.20 L228.15,79.26 L228.95,80.33 L229.75,81.39 L230.56,82.44 L231.36,83.50 L232.16,84.55 L232.96,85.60 L233.76,86.64 L234.56,87.68 L235.36,88.71 L236.17,89.74 L236.97,90.77 L237.77,91.79 L238.57,92.80 L239.37,93.82 L240.17,94.83 L240.97,95.83 L241.78,96.84 L242.58,97.84 L243.38,98.84 L244.18,99.84 L244.98,100.83 L245.78,101.83 L246.58,102.83 L247.39,103.82 L248.19,104.82 L248.99,105.82 L249.79,106.82 L250.59,107.81 L251.39,108.82 L252.19,109.82 L253.00,110.82 L253.80,111.83 L254.60,112.83 L255.40,113.84 L256.20,114.86 L257.00,115.87 L257.80,116.89 L258.61,117.90 L259.41,118.92 L260.21,119.93 L261.01,120.94 L261.81,121.95 L262.61,122.96 L263.41,123.96 L264.22,124.95 L265.02,125.94 L265.82,126.92 L266.62,127.90 L267.42,128.87 L268.22,129.83 L269.02,130.78 L269.83,131.72 L270.63,132.65 L271.43,133.57 L272.23,134.48 L273.03,135.38 L273.83,136.27 L274.63,137.14 L275.44,138.00 L276.24,138.85 L277.04,139.69 L277.84,140.51 L278.64,141.32 L279.44,142.12 L280.24,142.91 L281.05,143.68 L281.85,144.45 L282.65,145.20 L283.45,145.95 L284.25,146.68 L285.05,147.41 L285.85,148.12 L286.66,148.83 L287.46,149.52 L288.26,150.21 L289.06,150.89 L289.86,151.56 L290.66,152.22 L291.46,152.88 L292.27,153.53 L293.07,154.17 L293.87,154.80 L294.67,155.43 L295.47,156.05 L296.27,156.66 L297.07,157.27 L297.88,157.87 L298.68,158.47 L299.48,159.06 L300.28,159.64 L301.08,160.22 L301.88,160.79 L302.68,161.36 L303.49,161.93 L304.29,162.49 L305.09,163.04 L305.89,163.60 L306.69,164.14 L307.49,164.69 L308.29,165.22 L309.10,165.76 L309.90,166.29 L310.70,166.82 L311.50,167.34 L312.30,167.86 L313.10,168.38 L313.90,168.90 L314.71,169.41 L315.51,169.92 L316.31,170.42 L317.11,170.93 L317.91,171.43 L318.71,171.93 L319.51,172.42 L320.32,172.92 L321.12,173.41 L321.92,173.90 L322.72,174.38 L323.52,174.87 L324.32,175.35 L325.12,175.83 L325.93,176.31 L326.73,176.79 L327.53,177.26 L328.33,177.74 L329.13,178.21 L329.93,178.68 L330.73,179.15 L331.54,179.62 L332.34,180.08 L333.14,180.54 L333.94,181.00 L334.74,181.46 L335.54,181.92 L336.34,182.37 L337.15,182.82 L337.95,183.26 L338.75,183.71 L339.55,184.15 L340.35,184.59 L341.15,185.02 L341.95,185.45 L342.76,185.88 L343.56,186.30 L344.36,186.72 L345.16,187.14 L345.96,187.55 L346.76,187.96 L347.56,188.37 L348.37,188.77 L349.17,189.17 L349.97,189.56 L350.77,189.96 L351.57,190.34 L352.37,190.72 L353.17,191.10 L353.98,191.48 L354.78,191.85 L355.58,192.21 L356.38,192.58 L357.18,192.93 L357.98,193.29 L358.78,193.64 L359.58,193.98 L360.39,194.32 L361.19,194.66 L361.99,194.99 L362.79,195.32 L363.59,195.64 L364.39,195.96 L365.19,196.28 L366.00,196.59 L366.80,196.89 L367.60,197.19 L368.40,197.49 L369.20,197.78 L370.00,198.07 L370.80,198.36 L371.61,198.64 L372.41,198.92 L373.21,199.19 L374.01,199.46 L374.81,199.73 L375.61,199.99 L376.41,200.25 L377.22,200.51 L378.02,200.76 L378.82,201.01 L379.62,201.26 L380.42,201.51 L381.22,201.75 L382.02,201.99 L382.83,202.23 L383.63,202.47 L384.43,202.70 L385.23,202.93 L386.03,203.16 L386.83,203.39 L387.63,203.62 L388.44,203.84 L389.24,204.06 L390.04,204.28 L390.84,204.50 L391.64,204.72 L392.44,204.94 L393.24,205.16 L394.05,205.37 L394.85,205.58 L395.65,205.79 L396.45,206.01 L397.25,206.22 L398.05,206.42 L398.85,206.63 L399.66,206.84 L400.46,207.05 L401.26,207.25 L402.06,207.46 L402.86,207.66 L403.66,207.87 L404.46,208.07 L405.27,208.27 L406.07,208.47 L406.87,208.68 L407.67,208.88 L408.47,209.08 L409.27,209.28 L410.07,209.48 L410.88,209.68 L411.68,209.88 L412.48,210.08 L413.28,210.28 L414.08,210.48 L414.88,210.68 L415.68,210.88 L416.49,211.07 L417.29,211.27 L418.09,211.47 L418.89,211.67 L419.69,211.87 L420.49,212.07 L421.29,212.27 L422.10,212.46 L422.90,212.66 L423.70,212.86 L424.50,213.06" fill="none" stroke="#000" stroke-width="1.65" stroke-linejoin="round"/>
<path d="M63.04,232.90 L63.28,232.79 L63.53,232.68 L63.78,232.58 L64.03,232.47 L64.27,232.36 L64.52,232.25 L64.77,232.14 L65.01,232.03 L65.26,231.92 L65.51,231.81 L65.76,231.70 L66.00,231.60 L66.25,231.49 L66.50,231.51 L66.74,231.49 L66.99,231.44 L67.24,231.36 L67.49,231.26 L67.73,231.14 L67.98,231.02 L68.23,230.89 L68.47,230.77 L68.72,230.64 L68.97,230.51 L69.22,230.38 L69.46,230.25 L69.71,230.11 L69.96,229.98 L70.20,229.85 L70.45,229.71 L70.70,229.58 L70.95,229.44 L71.19,229.31 L71.44,229.17 L71.69,229.03 L71.94,228.90 L72.18,228.76 L72.43,228.62 L72.68,228.47 L73.48,228.00 L74.28,227.51 L75.08,226.99 L75.88,226.46 L76.68,225.89 L77.49,225.29 L78.29,224.66 L79.09,223.99 L79.89,223.28 L80.69,222.54 L81.49,221.78 L82.29,220.99 L83.09,220.18 L83.90,219.36 L84.70,218.53 L85.50,217.69 L86.30,216.85 L87.10,216.00 L87.90,215.14 L88.70,214.28 L89.51,213.41 L90.31,212.54 L91.11,211.65 L91.91,210.76 L92.71,209.85 L93.51,208.92 L94.31,207.98 L95.12,207.01 L95.92,206.02 L96.72,205.00 L97.52,203.96 L98.32,202.89 L99.12,201.79 L99.92,200.67 L100.73,199.53 L101.53,198.36 L102.33,197.17 L103.13,195.95 L103.93,194.72 L104.73,193.47 L105.53,192.21 L106.34,190.93 L107.14,189.64 L107.94,188.35 L108.74,187.04 L109.54,185.73 L110.34,184.40 L111.14,183.06 L111.95,181.71 L112.75,180.35 L113.55,178.97 L114.35,177.57 L115.15,176.16 L115.95,174.72 L116.75,173.26 L117.56,171.77 L118.36,170.25 L119.16,168.70 L119.96,167.12 L120.76,165.51 L121.56,163.87 L122.36,162.21 L123.17,160.51 L123.97,158.79 L124.77,157.04 L125.57,155.26 L126.37,153.45 L127.17,151.61 L127.97,149.75 L128.78,147.85 L129.58,145.92 L130.38,143.93 L131.18,141.84 L131.98,139.63 L132.78,137.26 L133.58,134.66 L134.39,131.82 L135.19,128.73 L135.99,125.43 L136.79,121.96 L137.59,118.36 L138.39,114.68 L139.19,110.99 L140.00,107.34 L140.80,103.81 L141.60,100.41 L142.40,97.12 L143.20,93.94 L144.00,90.85 L144.80,87.83 L145.61,84.87 L146.41,81.94 L147.21,79.01 L148.01,76.07 L148.81,73.08 L149.61,70.05 L150.41,67.00 L151.22,63.93 L152.02,60.86 L152.82,57.82 L153.62,54.82 L154.42,51.87 L155.22,49.01 L156.02,46.26 L156.83,43.63 L157.63,41.15 L158.43,38.84 L159.23,36.71 L160.03,34.75 L160.83,32.95 L161.63,31.30 L162.44,29.80 L163.24,28.42 L164.04,27.17 L164.84,26.03 L165.64,24.98 L166.44,24.03 L167.24,23.14 L168.05,22.31 L168.85,21.55 L169.65,20.84 L170.45,20.18 L171.25,19.59 L172.05,19.07 L172.85,18.60 L173.66,18.20 L174.46,17.86 L175.26,17.59 L176.06,17.39 L176.86,17.25 L177.66,17.19 L178.46,17.18 L179.27,17.25 L180.07,17.37 L180.87,17.55 L181.67,17.79 L182.47,18.08 L183.27,18.41 L184.07,18.79 L184.88,19.21 L185.68,19.67 L186.48,20.17 L187.28,20.69 L188.08,21.25 L188.88,21.83 L189.68,22.44 L190.49,23.07 L191.29,23.73 L192.09,24.42 L192.89,25.13 L193.69,25.86 L194.49,26.61 L195.29,27.38 L196.10,28.18 L196.90,28.99 L197.70,29.82 L198.50,30.68 L199.30,31.55 L200.10,32.43 L200.90,33.34 L201.71,34.26 L202.51,35.19 L203.31,36.14 L204.11,37.10 L204.91,38.08 L205.71,39.07 L206.51,40.07 L207.32,41.09 L208.12,42.11 L208.92,43.15 L209.72,44.20 L210.52,45.26 L211.32,46.33 L212.12,47.40 L212.93,48.49 L213.73,49.58 L214.53,50.68 L215.33,51.79 L216.13,52.90 L216.93,54.02 L217.73,55.15 L218.53,56.28 L219.34,57.41 L220.14,58.55 L220.94,59.69 L221.74,60.84 L222.54,61.98 L223.34,63.13 L224.14,64.28 L224.95,65.43 L225.75,66.57 L226.55,67.72 L227.35,68.87 L228.15,70.01 L228.95,71.16 L229.75,72.30 L230.56,73.44 L231.36,74.57 L232.16,75.70 L232.96,76.83 L233.76,77.95 L234.56,79.07 L235.36,80.19 L236.17,81.29 L236.97,82.40 L237.77,83.49 L238.57,84.59 L239.37,85.67 L240.17,86.76 L240.97,87.84 L241.78,88.92 L242.58,90.00 L243.38,91.07 L244.18,92.15 L244.98,93.22 L245.78,94.29 L246.58,95.36 L247.39,96.43 L248.19,97.50 L248.99,98.57 L249.79,99.64 L250.59,100.72 L251.39,101.79 L252.19,102.86 L253.00,103.94 L253.80,105.02 L254.60,106.10 L255.40,107.18 L256.20,108.26 L257.00,109.35 L257.80,110.44 L258.61,111.52 L259.41,112.61 L260.21,113.70 L261.01,114.78 L261.81,115.86 L262.61,116.93 L263.41,118.00 L264.22,119.07 L265.02,120.12 L265.82,121.17 L266.62,122.22 L267.42,123.25 L268.22,124.28 L269.02,125.29 L269.83,126.30 L270.63,127.29 L271.43,128.28 L272.23,129.25 L273.03,130.21 L273.83,131.15 L274.63,132.09 L275.44,133.01 L276.24,133.91 L277.04,134.80 L277.84,135.68 L278.64,136.55 L279.44,137.40 L280.24,138.24 L281.05,139.07 L281.85,139.88 L282.65,140.69 L283.45,141.48 L284.25,142.27 L285.05,143.04 L285.85,143.80 L286.66,144.55 L287.46,145.29 L288.26,146.03 L289.06,146.75 L289.86,147.47 L290.66,148.17 L291.46,148.87 L292.27,149.56 L293.07,150.24 L293.87,150.92 L294.67,151.59 L295.47,152.25 L296.27,152.90 L297.07,153.55 L297.88,154.19 L298.68,154.82 L299.48,155.45 L300.28,156.07 L301.08,156.69 L301.88,157.30 L302.68,157.91 L303.49,158.51 L304.29,159.10 L305.09,159.69 L305.89,160.28 L306.69,160.86 L307.49,161.43 L308.29,162.01 L309.10,162.57 L309.90,163.14 L310.70,163.70 L311.50,164.26 L312.30,164.81 L313.10,165.36 L313.90,165.90 L314.71,166.45 L315.51,166.98 L316.31,167.52 L317.11,168.05 L317.91,168.58 L318.71,169.11 L319.51,169.64 L320.32,170.16 L321.12,170.68 L321.92,171.20 L322.72,171.71 L323.52,172.22 L324.32,172.73 L325.12,173.24 L325.93,173.75 L326.73,174.25 L327.53,174.75 L328.33,175.25 L329.13,175.75 L329.93,176.25 L330.73,176.74 L331.54,177.24 L332.34,177.73 L333.14,178.21 L333.94,178.70 L334.74,179.18 L335.54,179.66 L336.34,180.13 L337.15,180.61 L337.95,181.08 L338.75,181.54 L339.55,182.01 L340.35,182.47 L341.15,182.92 L341.95,183.38 L342.76,183.83 L343.56,184.27 L344.36,184.71 L345.16,185.15 L345.96,185.59 L346.76,186.02 L347.56,186.44 L348.37,186.86 L349.17,187.28 L349.97,187.70 L350.77,188.10 L351.57,188.51 L352.37,188.91 L353.17,189.31 L353.98,189.70 L354.78,190.09 L355.58,190.47 L356.38,190.85 L357.18,191.22 L357.98,191.59 L358.78,191.96 L359.58,192.32 L360.39,192.68 L361.19,193.03 L361.99,193.38 L362.79,193.72 L363.59,194.06 L364.39,194.39 L365.19,194.72 L366.00,195.04 L366.80,195.36 L367.60,195.68 L368.40,195.99 L369.20,196.29 L370.00,196.60 L370.80,196.89 L371.61,197.19 L372.41,197.47 L373.21,197.76 L374.01,198.04 L374.81,198.32 L375.61,198.59 L376.41,198.86 L377.22,199.13 L378.02,199.40 L378.82,199.66 L379.62,199.92 L380.42,200.17 L381.22,200.42 L382.02,200.67 L382.83,200.92 L383.63,201.17 L384.43,201.41 L385.23,201.65 L386.03,201.89 L386.83,202.13 L387.63,202.36 L388.44,202.59 L389.24,202.83 L390.04,203.06 L390.84,203.28 L391.64,203.51 L392.44,203.73 L393.24,203.96 L394.05,204.18 L394.85,204.40 L395.65,204.62 L396.45,204.84 L397.25,205.06 L398.05,205.27 L398.85,205.49 L399.66,205.70 L400.46,205.91 L401.26,206.13 L402.06,206.34 L402.86,206.55 L403.66,206.76 L404.46,206.97 L405.27,207.18 L406.07,207.39 L406.87,207.60 L407.67,207.80 L408.47,208.01 L409.27,208.22 L410.07,208.43 L410.88,208.63 L411.68,208.84 L412.48,209.04 L413.28,209.25 L414.08,209.46 L414.88,209.66 L415.68,209.87 L416.49,210.07 L417.29,210.28 L418.09,210.48 L418.89,210.69 L419.69,210.89 L420.49,211.10 L421.29,211.30 L422.10,211.50 L422.90,211.71 L423.70,211.91 L424.50,212.12" fill="none" stroke="#000" stroke-width="1.65" stroke-linejoin="round"/>
<path d="M63.04,232.90 L63.28,232.77 L63.53,232.65 L63.78,232.52 L64.03,232.39 L64.27,232.27 L64.52,232.14 L64.77,232.01 L65.01,231.89 L65.26,231.76 L65.51,231.63 L65.76,231.51 L66.00,231.38 L66.25,231.25 L66.50,231.28 L66.74,231.26 L66.99,231.20 L67.24,231.11 L67.49,231.00 L67.73,230.86 L67.98,230.72 L68.23,230.57 L68.47,230.43 L68.72,230.28 L68.97,230.13 L69.22,229.98 L69.46,229.83 L69.71,229.68 L69.96,229.52 L70.20,229.37 L70.45,229.22 L70.70,229.06 L70.95,228.91 L71.19,228.75 L71.44,228.60 L71.69,228.44 L71.94,228.28 L72.18,228.12 L72.43,227.96 L72.68,227.80 L73.48,227.27 L74.28,226.71 L75.08,226.13 L75.88,225.52 L76.68,224.88 L77.49,224.20 L78.29,223.49 L79.09,222.74 L79.89,221.95 L80.69,221.12 L81.49,220.27 L82.29,219.38 L83.09,218.48 L83.90,217.57 L84.70,216.65 L85.50,215.73 L86.30,214.79 L87.10,213.86 L87.90,212.92 L88.70,211.97 L89.51,211.02 L90.31,210.06 L91.11,209.09 L91.91,208.11 L92.71,207.12 L93.51,206.12 L94.31,205.09 L95.12,204.05 L95.92,202.97 L96.72,201.87 L97.52,200.74 L98.32,199.59 L99.12,198.40 L99.92,197.20 L100.73,195.96 L101.53,194.71 L102.33,193.43 L103.13,192.13 L103.93,190.81 L104.73,189.47 L105.53,188.12 L106.34,186.76 L107.14,185.38 L107.94,184.00 L108.74,182.61 L109.54,181.22 L110.34,179.81 L111.14,178.40 L111.95,176.97 L112.75,175.53 L113.55,174.07 L114.35,172.60 L115.15,171.10 L115.95,169.59 L116.75,168.05 L117.56,166.48 L118.36,164.89 L119.16,163.26 L119.96,161.60 L120.76,159.92 L121.56,158.20 L122.36,156.45 L123.17,154.68 L123.97,152.87 L124.77,151.04 L125.57,149.18 L126.37,147.29 L127.17,145.38 L127.97,143.43 L128.78,141.45 L129.58,139.44 L130.38,137.36 L131.18,135.19 L131.98,132.89 L132.78,130.40 L133.58,127.69 L134.39,124.72 L135.19,121.48 L135.99,118.02 L136.79,114.38 L137.59,110.61 L138.39,106.77 L139.19,102.90 L140.00,99.09 L140.80,95.41 L141.60,91.86 L142.40,88.44 L143.20,85.14 L144.00,81.94 L144.80,78.82 L145.61,75.76 L146.41,72.73 L147.21,69.71 L148.01,66.68 L148.81,63.60 L149.61,60.48 L150.41,57.33 L151.22,54.17 L152.02,51.01 L152.82,47.88 L153.62,44.80 L154.42,41.78 L155.22,38.85 L156.02,36.03 L156.83,33.35 L157.63,30.82 L158.43,28.48 L159.23,26.32 L160.03,24.35 L160.83,22.54 L161.63,20.89 L162.44,19.39 L163.24,18.03 L164.04,16.80 L164.84,15.69 L165.64,14.67 L166.44,13.75 L167.24,12.90 L168.05,12.11 L168.85,11.39 L169.65,10.72 L170.45,10.11 L171.25,9.57 L172.05,9.09 L172.85,8.68 L173.66,8.33 L174.46,8.05 L175.26,7.83 L176.06,7.69 L176.86,7.62 L177.66,7.61 L178.46,7.68 L179.27,7.80 L180.07,8.00 L180.87,8.25 L181.67,8.55 L182.47,8.91 L183.27,9.32 L184.07,9.77 L184.88,10.26 L185.68,10.79 L186.48,11.36 L187.28,11.96 L188.08,12.59 L188.88,13.24 L189.68,13.92 L190.49,14.63 L191.29,15.36 L192.09,16.12 L192.89,16.89 L193.69,17.69 L194.49,18.52 L195.29,19.36 L196.10,20.22 L196.90,21.10 L197.70,22.00 L198.50,22.92 L199.30,23.86 L200.10,24.81 L200.90,25.78 L201.71,26.76 L202.51,27.76 L203.31,28.78 L204.11,29.80 L204.91,30.84 L205.71,31.89 L206.51,32.96 L207.32,34.03 L208.12,35.12 L208.92,36.22 L209.72,37.32 L210.52,38.44 L211.32,39.56 L212.12,40.69 L212.93,41.84 L213.73,42.98 L214.53,44.14 L215.33,45.30 L216.13,46.47 L216.93,47.64 L217.73,48.82 L218.53,50.00 L219.34,51.18 L220.14,52.37 L220.94,53.56 L221.74,54.76 L222.54,55.95 L223.34,57.14 L224.14,58.34 L224.95,59.53 L225.75,60.73 L226.55,61.92 L227.35,63.11 L228.15,64.30 L228.95,65.49 L229.75,66.67 L230.56,67.85 L231.36,69.03 L232.16,70.20 L232.96,71.36 L233.76,72.53 L234.56,73.68 L235.36,74.83 L236.17,75.98 L236.97,77.12 L237.77,78.25 L238.57,79.38 L239.37,80.50 L240.17,81.62 L240.97,82.74 L241.78,83.85 L242.58,84.96 L243.38,86.07 L244.18,87.17 L244.98,88.28 L245.78,89.38 L246.58,90.48 L247.39,91.58 L248.19,92.69 L248.99,93.79 L249.79,94.89 L250.59,95.99 L251.39,97.09 L252.19,98.20 L253.00,99.31 L253.80,100.41 L254.60,101.52 L255.40,102.63 L256.20,103.75 L257.00,104.87 L257.80,105.98 L258.61,107.10 L259.41,108.22 L260.21,109.33 L261.01,110.44 L261.81,111.55 L262.61,112.65 L263.41,113.75 L264.22,114.85 L265.02,115.93 L265.82,117.01 L266.62,118.08 L267.42,119.14 L268.22,120.20 L269.02,121.24 L269.83,122.27 L270.63,123.29 L271.43,124.30 L272.23,125.30 L273.03,126.28 L273.83,127.25 L274.63,128.21 L275.44,129.16 L276.24,130.08 L277.04,131.00 L277.84,131.90 L278.64,132.79 L279.44,133.66 L280.24,134.52 L281.05,135.37 L281.85,136.21 L282.65,137.03 L283.45,137.85 L284.25,138.65 L285.05,139.44 L285.85,140.22 L286.66,140.99 L287.46,141.76 L288.26,142.51 L289.06,143.25 L289.86,143.98 L290.66,144.71 L291.46,145.42 L292.27,146.13 L293.07,146.83 L293.87,147.52 L294.67,148.21 L295.47,148.88 L296.27,149.55 L297.07,150.22 L297.88,150.87 L298.68,151.52 L299.48,152.17 L300.28,152.81 L301.08,153.44 L301.88,154.07 L302.68,154.69 L303.49,155.30 L304.29,155.91 L305.09,156.52 L305.89,157.12 L306.69,157.72 L307.49,158.31 L308.29,158.90 L309.10,159.48 L309.90,160.06 L310.70,160.64 L311.50,161.21 L312.30,161.78 L313.10,162.34 L313.90,162.90 L314.71,163.46 L315.51,164.02 L316.31,164.57 L317.11,165.12 L317.91,165.66 L318.71,166.21 L319.51,166.75 L320.32,167.28 L321.12,167.82 L321.92,168.35 L322.72,168.88 L323.52,169.41 L324.32,169.94 L325.12,170.47 L325.93,170.99 L326.73,171.51 L327.53,172.03 L328.33,172.54 L329.13,173.06 L329.93,173.57 L330.73,174.09 L331.54,174.59 L332.34,175.10 L333.14,175.61 L333.94,176.11 L334.74,176.61 L335.54,177.10 L336.34,177.60 L337.15,178.09 L337.95,178.58 L338.75,179.06 L339.55,179.54 L340.35,180.02 L341.15,180.49 L341.95,180.96 L342.76,181.43 L343.56,181.89 L344.36,182.35 L345.16,182.81 L345.96,183.26 L346.76,183.71 L347.56,184.15 L348.37,184.59 L349.17,185.03 L349.97,185.46 L350.77,185.88 L351.57,186.31 L352.37,186.72 L353.17,187.14 L353.98,187.55 L354.78,187.95 L355.58,188.35 L356.38,188.75 L357.18,189.14 L357.98,189.53 L358.78,189.91 L359.58,190.29 L360.39,190.66 L361.19,191.03 L361.99,191.39 L362.79,191.75 L363.59,192.10 L364.39,192.45 L365.19,192.80 L366.00,193.14 L366.80,193.47 L367.60,193.80 L368.40,194.13 L369.20,194.45 L370.00,194.77 L370.80,195.08 L371.61,195.39 L372.41,195.69 L373.21,195.99 L374.01,196.29 L374.81,196.58 L375.61,196.87 L376.41,197.15 L377.22,197.43 L378.02,197.71 L378.82,197.99 L379.62,198.26 L380.42,198.53 L381.22,198.80 L382.02,199.06 L382.83,199.32 L383.63,199.58 L384.43,199.84 L385.23,200.10 L386.03,200.35 L386.83,200.60 L387.63,200.85 L388.44,201.10 L389.24,201.34 L390.04,201.58 L390.84,201.83 L391.64,202.07 L392.44,202.30 L393.24,202.54 L394.05,202.78 L394.85,203.01 L395.65,203.25 L396.45,203.48 L397.25,203.71 L398.05,203.94 L398.85,204.17 L399.66,204.40 L400.46,204.63 L401.26,204.85 L402.06,205.08 L402.86,205.30 L403.66,205.53 L404.46,205.75 L405.27,205.98 L406.07,206.20 L406.87,206.42 L407.67,206.64 L408.47,206.87 L409.27,207.09 L410.07,207.31 L410.88,207.53 L411.68,207.75 L412.48,207.97 L413.28,208.19 L414.08,208.41 L414.88,208.63 L415.68,208.85 L416.49,209.07 L417.29,209.29 L418.09,209.51 L418.89,209.73 L419.69,209.95 L420.49,210.17 L421.29,210.39 L422.10,210.60 L422.90,210.82 L423.70,211.04 L424.50,211.26" fill="none" stroke="#000" stroke-width="1.65" stroke-linejoin="round"/>
</g>
<path d="M55.6,0.25 H432.0 V233.0 H55.6 Z" fill="none" stroke="#000" stroke-width="0.45"/>
<path d="M71.07,233.0 v-2.8 M71.07,0.25 v2.8 M87.14,233.0 v-2.8 M87.14,0.25 v2.8 M103.20,233.0 v-4.6 M103.20,0.25 v4.6 M119.27,233.0 v-2.8 M119.27,0.25 v2.8 M135.33,233.0 v-2.8 M135.33,0.25 v2.8 M151.40,233.0 v-2.8 M151.40,0.25 v2.8 M167.46,233.0 v-2.8 M167.46,0.25 v2.8 M183.53,233.0 v-4.6 M183.53,0.25 v4.6 M199.59,233.0 v-2.8 M199.59,0.25 v2.8 M215.66,233.0 v-2.8 M215.66,0.25 v2.8 M231.72,233.0 v-2.8 M231.72,0.25 v2.8 M247.79,233.0 v-2.8 M247.79,0.25 v2.8 M263.85,233.0 v-4.6 M263.85,0.25 v4.6 M279.92,233.0 v-2.8 M279.92,0.25 v2.8 M295.98,233.0 v-2.8 M295.98,0.25 v2.8 M312.05,233.0 v-2.8 M312.05,0.25 v2.8 M328.11,233.0 v-2.8 M328.11,0.25 v2.8 M344.18,233.0 v-4.6 M344.18,0.25 v4.6 M360.24,233.0 v-2.8 M360.24,0.25 v2.8 M376.31,233.0 v-2.8 M376.31,0.25 v2.8 M392.37,233.0 v-2.8 M392.37,0.25 v2.8 M408.44,233.0 v-2.8 M408.44,0.25 v2.8 M424.50,233.0 v-4.6 M424.50,0.25 v4.6 M55.6,232.90 h4.6 M432.0,232.90 h-4.6 M55.6,222.78 h2.8 M432.0,222.78 h-2.8 M55.6,212.66 h2.8 M432.0,212.66 h-2.8 M55.6,202.54 h2.8 M432.0,202.54 h-2.8 M55.6,192.42 h2.8 M432.0,192.42 h-2.8 M55.6,182.30 h4.6 M432.0,182.30 h-4.6 M55.6,172.17 h2.8 M432.0,172.17 h-2.8 M55.6,162.05 h2.8 M432.0,162.05 h-2.8 M55.6,151.93 h2.8 M432.0,151.93 h-2.8 M55.6,141.81 h2.8 M432.0,141.81 h-2.8 M55.6,131.69 h4.6 M432.0,131.69 h-4.6 M55.6,121.57 h2.8 M432.0,121.57 h-2.8 M55.6,111.45 h2.8 M432.0,111.45 h-2.8 M55.6,101.33 h2.8 M432.0,101.33 h-2.8 M55.6,91.21 h2.8 M432.0,91.21 h-2.8 M55.6,81.09 h4.6 M432.0,81.09 h-4.6 M55.6,70.96 h2.8 M432.0,70.96 h-2.8 M55.6,60.84 h2.8 M432.0,60.84 h-2.8 M55.6,50.72 h2.8 M432.0,50.72 h-2.8 M55.6,40.60 h2.8 M432.0,40.60 h-2.8 M55.6,30.48 h4.6 M432.0,30.48 h-4.6 M55.6,20.36 h2.8 M432.0,20.36 h-2.8 M55.6,10.24 h2.8 M432.0,10.24 h-2.8" fill="none" stroke="#000" stroke-width="0.45"/>
<path d="M303.1,81.15 H345.1" stroke="#000" stroke-width="1.7"/>
<path d="M303.1,106.45 H345.2" stroke="#f00" stroke-width="1.8" stroke-dasharray="6.55 2.9"/>
<path d="M303.0,131.85 H342.4" stroke="#00f" stroke-width="1.8" stroke-dasharray="2.9 3.15"/>
<text x="103.20" y="248.7" text-anchor="middle">300</text>
<text x="183.53" y="248.7" text-anchor="middle">400</text>
<text x="263.85" y="248.7" text-anchor="middle">500</text>
<text x="344.18" y="248.7" text-anchor="middle">600</text>
<text x="424.50" y="248.7" text-anchor="middle">700</text>
<text x="51.2" y="238.50" text-anchor="end">0.00</text>
<text x="51.2" y="187.90" text-anchor="end">0.05</text>
<text x="51.2" y="137.29" text-anchor="end">0.10</text>
<text x="51.2" y="86.68" text-anchor="end">0.15</text>
<text x="51.2" y="36.08" text-anchor="end">0.20</text>
<text x="214.4" y="270.8" letter-spacing="0">Q</text>
<text x="230.3" y="270.8" letter-spacing="0">(</text>
<text x="238.5" y="270.8" letter-spacing="0">GeV</text>
<text x="266.7" y="270.8" letter-spacing="0">)</text>
<text transform="translate(13.0,172.0) rotate(-90)">d</text>
<text transform="translate(13.0,164.85) rotate(-90) scale(1.33,1)" font-style="italic">σ</text>
<text transform="translate(13.0,154.2) rotate(-90) scale(1.43,1)">/</text>
<text transform="translate(13.0,143.8) rotate(-90)">dQ</text>
<text transform="translate(13.0,121.9) rotate(-90)">(</text>
<text transform="translate(13.0,115.0) rotate(-90)">fb</text>
<text transform="translate(13.0,101.9) rotate(-90) scale(1.3,1)">/</text>
<text transform="translate(13.0,94.4) rotate(-90)">GeV</text>
<text transform="translate(13.0,66.4) rotate(-90)">)</text>
<text transform="translate(288.3,34.2) scale(1,1)">14</text>
<text transform="translate(308.8,34.2) scale(1,1)">TeV</text>
<text transform="translate(336.6,34.2) scale(1,1)">,</text>
<text transform="translate(345.8,34.2) scale(1.2,1)" font-style="italic">μ</text>
<text transform="translate(354.9,36.400000000000006) scale(1,1)" style="font-size:11px">0</text>
<text transform="translate(362.7,34.2) scale(1.15,1)">=</text>
<text transform="translate(372.0,34.2) scale(1.05,1)">Q</text>
<text transform="translate(383.6,34.2) scale(1.4,1)">/</text>
<text transform="translate(392.2,34.2) scale(1.05,1)">2</text>
<text x="358.2" y="87.2" letter-spacing="0.4">NNLL</text>
<text x="358.2" y="112.2" letter-spacing="0.4">NLL</text>
<text x="358.2" y="137.6" letter-spacing="0.4">LL</text>
</svg>
</body></html>
